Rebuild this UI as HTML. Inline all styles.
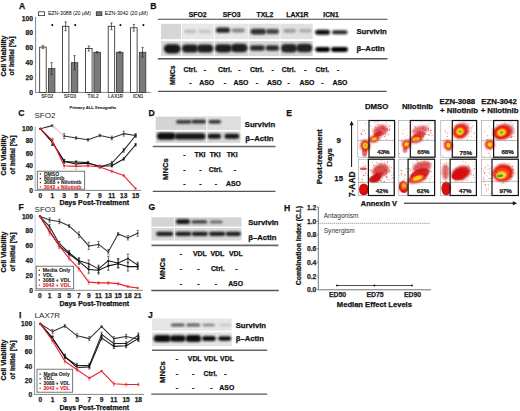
<!DOCTYPE html>
<html><head><meta charset="utf-8"><style>
html,body{margin:0;padding:0;background:#fff;}
svg{display:block;font-family:"Liberation Sans",sans-serif;}
</style></head><body>
<svg width="520" height="411" viewBox="0 0 520 411">
<defs>
<filter id="b0" x="-50%" y="-50%" width="200%" height="200%"><feGaussianBlur stdDeviation="0.4"/></filter>
<filter id="b1" x="-50%" y="-50%" width="200%" height="200%"><feGaussianBlur stdDeviation="0.7"/></filter>
<filter id="bb" x="-50%" y="-50%" width="200%" height="200%"><feGaussianBlur stdDeviation="0.9"/></filter>
<filter id="b2" x="-50%" y="-50%" width="200%" height="200%"><feGaussianBlur stdDeviation="1.1"/></filter>
<filter id="b3" x="-50%" y="-50%" width="200%" height="200%"><feGaussianBlur stdDeviation="2"/></filter>
</defs>
<rect width="520" height="411" fill="#fff"/>
<text x="19.00" y="8.68" font-size="8.6" font-weight="bold" text-anchor="start" fill="#111" stroke="#111" stroke-width="0.25">A</text>
<text x="150.30" y="8.98" font-size="8.6" font-weight="bold" text-anchor="start" fill="#111" stroke="#111" stroke-width="0.25">B</text>
<text x="18.20" y="115.58" font-size="8.6" font-weight="bold" text-anchor="start" fill="#111" stroke="#111" stroke-width="0.25">C</text>
<text x="148.50" y="115.78" font-size="8.6" font-weight="bold" text-anchor="start" fill="#111" stroke="#111" stroke-width="0.25">D</text>
<text x="286.30" y="116.18" font-size="8.6" font-weight="bold" text-anchor="start" fill="#111" stroke="#111" stroke-width="0.25">E</text>
<text x="18.50" y="210.08" font-size="8.6" font-weight="bold" text-anchor="start" fill="#111" stroke="#111" stroke-width="0.25">F</text>
<text x="148.50" y="210.48" font-size="8.6" font-weight="bold" text-anchor="start" fill="#111" stroke="#111" stroke-width="0.25">G</text>
<text x="284.00" y="211.48" font-size="8.6" font-weight="bold" text-anchor="start" fill="#111" stroke="#111" stroke-width="0.25">H</text>
<text x="19.00" y="317.68" font-size="8.6" font-weight="bold" text-anchor="start" fill="#111" stroke="#111" stroke-width="0.25">I</text>
<text x="147.90" y="317.68" font-size="8.6" font-weight="bold" text-anchor="start" fill="#111" stroke="#111" stroke-width="0.25">J</text>
<line x1="35.60" y1="16.80" x2="35.60" y2="92.70" stroke="#777" stroke-width="0.9"/>
<line x1="35.20" y1="92.40" x2="150.70" y2="92.40" stroke="#777" stroke-width="0.9"/>
<text x="33.00" y="94.80" font-size="6.7" font-weight="bold" text-anchor="end" fill="#222" stroke="#222" stroke-width="0.25">0</text>
<text x="33.00" y="79.94" font-size="6.7" font-weight="bold" text-anchor="end" fill="#222" stroke="#222" stroke-width="0.25">20</text>
<text x="33.00" y="65.08" font-size="6.7" font-weight="bold" text-anchor="end" fill="#222" stroke="#222" stroke-width="0.25">40</text>
<text x="33.00" y="50.22" font-size="6.7" font-weight="bold" text-anchor="end" fill="#222" stroke="#222" stroke-width="0.25">60</text>
<text x="33.00" y="35.36" font-size="6.7" font-weight="bold" text-anchor="end" fill="#222" stroke="#222" stroke-width="0.25">80</text>
<text x="33.00" y="20.50" font-size="6.7" font-weight="bold" text-anchor="end" fill="#222" stroke="#222" stroke-width="0.25">100</text>
<rect x="39.70" y="47.08" width="6.50" height="45.32" fill="#fff" stroke="#222" stroke-width="0.8"/>
<rect x="48.40" y="68.62" width="6.50" height="23.78" fill="#7a7a7a" stroke="#333" stroke-width="0.8"/>
<line x1="42.95" y1="45.59" x2="42.95" y2="48.56" stroke="#222" stroke-width="0.7"/>
<line x1="41.75" y1="45.59" x2="44.15" y2="45.59" stroke="#222" stroke-width="0.6"/>
<line x1="41.75" y1="48.56" x2="44.15" y2="48.56" stroke="#222" stroke-width="0.6"/>
<line x1="51.65" y1="62.68" x2="51.65" y2="74.57" stroke="#222" stroke-width="0.7"/>
<line x1="50.45" y1="62.68" x2="52.85" y2="62.68" stroke="#222" stroke-width="0.6"/>
<line x1="50.45" y1="74.57" x2="52.85" y2="74.57" stroke="#222" stroke-width="0.6"/>
<text x="47.30" y="97.95" font-size="4.6" font-weight="bold" text-anchor="middle" fill="#333">SFO2</text>
<rect x="62.40" y="26.27" width="6.50" height="66.13" fill="#fff" stroke="#222" stroke-width="0.8"/>
<rect x="71.30" y="62.68" width="6.50" height="29.72" fill="#7a7a7a" stroke="#333" stroke-width="0.8"/>
<line x1="65.65" y1="21.82" x2="65.65" y2="30.73" stroke="#222" stroke-width="0.7"/>
<line x1="64.45" y1="21.82" x2="66.85" y2="21.82" stroke="#222" stroke-width="0.6"/>
<line x1="64.45" y1="30.73" x2="66.85" y2="30.73" stroke="#222" stroke-width="0.6"/>
<line x1="74.55" y1="55.62" x2="74.55" y2="69.74" stroke="#222" stroke-width="0.7"/>
<line x1="73.35" y1="55.62" x2="75.75" y2="55.62" stroke="#222" stroke-width="0.6"/>
<line x1="73.35" y1="69.74" x2="75.75" y2="69.74" stroke="#222" stroke-width="0.6"/>
<text x="70.10" y="97.95" font-size="4.6" font-weight="bold" text-anchor="middle" fill="#333">SFO3</text>
<rect x="85.60" y="48.56" width="6.50" height="43.84" fill="#fff" stroke="#222" stroke-width="0.8"/>
<rect x="93.90" y="52.28" width="6.50" height="40.12" fill="#7a7a7a" stroke="#333" stroke-width="0.8"/>
<line x1="88.85" y1="46.04" x2="88.85" y2="51.09" stroke="#222" stroke-width="0.7"/>
<line x1="87.65" y1="46.04" x2="90.05" y2="46.04" stroke="#222" stroke-width="0.6"/>
<line x1="87.65" y1="51.09" x2="90.05" y2="51.09" stroke="#222" stroke-width="0.6"/>
<line x1="97.15" y1="51.54" x2="97.15" y2="53.02" stroke="#222" stroke-width="0.7"/>
<line x1="95.95" y1="51.54" x2="98.35" y2="51.54" stroke="#222" stroke-width="0.6"/>
<line x1="95.95" y1="53.02" x2="98.35" y2="53.02" stroke="#222" stroke-width="0.6"/>
<text x="93.00" y="97.95" font-size="4.6" font-weight="bold" text-anchor="middle" fill="#333">TXL2</text>
<rect x="108.20" y="26.27" width="6.50" height="66.13" fill="#fff" stroke="#222" stroke-width="0.8"/>
<rect x="116.50" y="52.28" width="6.50" height="40.12" fill="#7a7a7a" stroke="#333" stroke-width="0.8"/>
<line x1="111.45" y1="22.93" x2="111.45" y2="29.62" stroke="#222" stroke-width="0.7"/>
<line x1="110.25" y1="22.93" x2="112.65" y2="22.93" stroke="#222" stroke-width="0.6"/>
<line x1="110.25" y1="29.62" x2="112.65" y2="29.62" stroke="#222" stroke-width="0.6"/>
<line x1="119.75" y1="51.54" x2="119.75" y2="53.02" stroke="#222" stroke-width="0.7"/>
<line x1="118.55" y1="51.54" x2="120.95" y2="51.54" stroke="#222" stroke-width="0.6"/>
<line x1="118.55" y1="53.02" x2="120.95" y2="53.02" stroke="#222" stroke-width="0.6"/>
<text x="115.60" y="97.95" font-size="4.6" font-weight="bold" text-anchor="middle" fill="#333">LAX1R</text>
<rect x="130.60" y="27.76" width="6.50" height="64.64" fill="#fff" stroke="#222" stroke-width="0.8"/>
<rect x="139.30" y="52.28" width="6.50" height="40.12" fill="#7a7a7a" stroke="#333" stroke-width="0.8"/>
<line x1="133.85" y1="24.42" x2="133.85" y2="31.10" stroke="#222" stroke-width="0.7"/>
<line x1="132.65" y1="24.42" x2="135.05" y2="24.42" stroke="#222" stroke-width="0.6"/>
<line x1="132.65" y1="31.10" x2="135.05" y2="31.10" stroke="#222" stroke-width="0.6"/>
<line x1="142.55" y1="47.45" x2="142.55" y2="57.11" stroke="#222" stroke-width="0.7"/>
<line x1="141.35" y1="47.45" x2="143.75" y2="47.45" stroke="#222" stroke-width="0.6"/>
<line x1="141.35" y1="57.11" x2="143.75" y2="57.11" stroke="#222" stroke-width="0.6"/>
<text x="138.20" y="97.95" font-size="4.6" font-weight="bold" text-anchor="middle" fill="#333">ICN1</text>
<circle cx="52.3" cy="25.1" r="1.05" fill="#111"/>
<circle cx="75.2" cy="25.1" r="1.05" fill="#111"/>
<circle cx="120.4" cy="25.1" r="1.05" fill="#111"/>
<circle cx="143.4" cy="25.1" r="1.05" fill="#111"/>
<rect x="38.50" y="11.80" width="6.10" height="3.80" fill="#fff" stroke="#333" stroke-width="0.8"/>
<text x="47.90" y="15.26" font-size="5.2" font-weight="normal" text-anchor="start" fill="#000">EZN-3088 (20 µM)</text>
<rect x="96.30" y="11.80" width="5.60" height="3.80" fill="#777" stroke="#333" stroke-width="0.8"/>
<text x="104.80" y="15.26" font-size="5.2" font-weight="normal" text-anchor="start" fill="#000">EZN-3042 (20 µM)</text>
<text x="92.80" y="109.37" font-size="4.1" font-weight="bold" text-anchor="middle" fill="#222" stroke="#222" stroke-width="0.1">Primary ALL Xenografts</text>
<text x="3.10" y="58.47" font-size="6.9" font-weight="bold" text-anchor="middle" fill="#111" stroke="#111" stroke-width="0.25" transform="rotate(-90 3.10 56.00)">Cell Viability</text>
<text x="11.80" y="58.47" font-size="6.9" font-weight="bold" text-anchor="middle" fill="#111" stroke="#111" stroke-width="0.25" transform="rotate(-90 11.80 56.00)">of Initial [%]</text>
<line x1="35.20" y1="126.50" x2="35.20" y2="190.70" stroke="#bbb" stroke-width="1.2"/>
<line x1="34.80" y1="190.40" x2="141.00" y2="190.40" stroke="#888" stroke-width="1.0"/>
<text x="33.00" y="192.76" font-size="6.6" font-weight="bold" text-anchor="end" fill="#222" stroke="#222" stroke-width="0.25">0</text>
<text x="33.00" y="180.42" font-size="6.6" font-weight="bold" text-anchor="end" fill="#222" stroke="#222" stroke-width="0.25">20</text>
<text x="33.00" y="168.08" font-size="6.6" font-weight="bold" text-anchor="end" fill="#222" stroke="#222" stroke-width="0.25">40</text>
<text x="33.00" y="155.74" font-size="6.6" font-weight="bold" text-anchor="end" fill="#222" stroke="#222" stroke-width="0.25">60</text>
<text x="33.00" y="143.40" font-size="6.6" font-weight="bold" text-anchor="end" fill="#222" stroke="#222" stroke-width="0.25">80</text>
<text x="33.00" y="131.06" font-size="6.6" font-weight="bold" text-anchor="end" fill="#222" stroke="#222" stroke-width="0.25">100</text>
<text x="40.40" y="197.96" font-size="6.6" font-weight="bold" text-anchor="middle" fill="#222" stroke="#222" stroke-width="0.25">0</text>
<text x="52.30" y="197.96" font-size="6.6" font-weight="bold" text-anchor="middle" fill="#222" stroke="#222" stroke-width="0.25">1</text>
<text x="64.20" y="197.96" font-size="6.6" font-weight="bold" text-anchor="middle" fill="#222" stroke="#222" stroke-width="0.25">3</text>
<text x="76.10" y="197.96" font-size="6.6" font-weight="bold" text-anchor="middle" fill="#222" stroke="#222" stroke-width="0.25">5</text>
<text x="88.00" y="197.96" font-size="6.6" font-weight="bold" text-anchor="middle" fill="#222" stroke="#222" stroke-width="0.25">7</text>
<text x="99.90" y="197.96" font-size="6.6" font-weight="bold" text-anchor="middle" fill="#222" stroke="#222" stroke-width="0.25">9</text>
<text x="111.80" y="197.96" font-size="6.6" font-weight="bold" text-anchor="middle" fill="#222" stroke="#222" stroke-width="0.25">11</text>
<text x="123.70" y="197.96" font-size="6.6" font-weight="bold" text-anchor="middle" fill="#222" stroke="#222" stroke-width="0.25">13</text>
<text x="135.60" y="197.96" font-size="6.6" font-weight="bold" text-anchor="middle" fill="#222" stroke="#222" stroke-width="0.25">15</text>
<text x="94.20" y="205.41" font-size="7.0" font-weight="bold" text-anchor="middle" fill="#111" stroke="#111" stroke-width="0.25">Days Post-Treatment</text>
<text x="3.80" y="157.47" font-size="6.9" font-weight="bold" text-anchor="middle" fill="#111" stroke="#111" stroke-width="0.25" transform="rotate(-90 3.80 155.00)">Cell Viability</text>
<text x="12.30" y="157.47" font-size="6.9" font-weight="bold" text-anchor="middle" fill="#111" stroke="#111" stroke-width="0.25" transform="rotate(-90 12.30 155.00)">of Initial [%]</text>
<text x="34.50" y="118.06" font-size="8.0" font-weight="normal" text-anchor="start" fill="#222">SFO2</text>
<polyline points="40.40,128.70 52.30,125.62 64.20,136.10 76.10,137.96 88.00,139.81 99.90,135.49 111.80,137.96 123.70,133.64 135.60,135.49" fill="none" stroke="#333" stroke-width="1.05" stroke-linejoin="round"/>
<circle cx="40.40" cy="128.70" r="1.0" fill="#333"/>
<line x1="52.30" y1="125.00" x2="52.30" y2="126.23" stroke="#333" stroke-width="0.65"/>
<line x1="51.10" y1="125.00" x2="53.50" y2="125.00" stroke="#333" stroke-width="0.6"/>
<line x1="51.10" y1="126.23" x2="53.50" y2="126.23" stroke="#333" stroke-width="0.6"/>
<circle cx="52.30" cy="125.62" r="1.0" fill="#333"/>
<line x1="64.20" y1="133.64" x2="64.20" y2="138.57" stroke="#333" stroke-width="0.65"/>
<line x1="63.00" y1="133.64" x2="65.40" y2="133.64" stroke="#333" stroke-width="0.6"/>
<line x1="63.00" y1="138.57" x2="65.40" y2="138.57" stroke="#333" stroke-width="0.6"/>
<circle cx="64.20" cy="136.10" r="1.0" fill="#333"/>
<line x1="76.10" y1="136.72" x2="76.10" y2="139.19" stroke="#333" stroke-width="0.65"/>
<line x1="74.90" y1="136.72" x2="77.30" y2="136.72" stroke="#333" stroke-width="0.6"/>
<line x1="74.90" y1="139.19" x2="77.30" y2="139.19" stroke="#333" stroke-width="0.6"/>
<circle cx="76.10" cy="137.96" r="1.0" fill="#333"/>
<line x1="88.00" y1="138.57" x2="88.00" y2="141.04" stroke="#333" stroke-width="0.65"/>
<line x1="86.80" y1="138.57" x2="89.20" y2="138.57" stroke="#333" stroke-width="0.6"/>
<line x1="86.80" y1="141.04" x2="89.20" y2="141.04" stroke="#333" stroke-width="0.6"/>
<circle cx="88.00" cy="139.81" r="1.0" fill="#333"/>
<line x1="99.90" y1="134.25" x2="99.90" y2="136.72" stroke="#333" stroke-width="0.65"/>
<line x1="98.70" y1="134.25" x2="101.10" y2="134.25" stroke="#333" stroke-width="0.6"/>
<line x1="98.70" y1="136.72" x2="101.10" y2="136.72" stroke="#333" stroke-width="0.6"/>
<circle cx="99.90" cy="135.49" r="1.0" fill="#333"/>
<line x1="111.80" y1="136.10" x2="111.80" y2="139.81" stroke="#333" stroke-width="0.65"/>
<line x1="110.60" y1="136.10" x2="113.00" y2="136.10" stroke="#333" stroke-width="0.6"/>
<line x1="110.60" y1="139.81" x2="113.00" y2="139.81" stroke="#333" stroke-width="0.6"/>
<circle cx="111.80" cy="137.96" r="1.0" fill="#333"/>
<line x1="123.70" y1="131.17" x2="123.70" y2="136.10" stroke="#333" stroke-width="0.65"/>
<line x1="122.50" y1="131.17" x2="124.90" y2="131.17" stroke="#333" stroke-width="0.6"/>
<line x1="122.50" y1="136.10" x2="124.90" y2="136.10" stroke="#333" stroke-width="0.6"/>
<circle cx="123.70" cy="133.64" r="1.0" fill="#333"/>
<line x1="135.60" y1="133.64" x2="135.60" y2="137.34" stroke="#333" stroke-width="0.65"/>
<line x1="134.40" y1="133.64" x2="136.80" y2="133.64" stroke="#333" stroke-width="0.6"/>
<line x1="134.40" y1="137.34" x2="136.80" y2="137.34" stroke="#333" stroke-width="0.6"/>
<circle cx="135.60" cy="135.49" r="1.0" fill="#333"/>
<polyline points="40.40,128.70 52.30,142.27 64.20,161.40 76.10,162.02 88.00,162.63 99.90,166.95 111.80,163.25 123.70,150.30 135.60,135.49" fill="none" stroke="#222" stroke-width="1.05" stroke-linejoin="round"/>
<circle cx="40.40" cy="128.70" r="1.0" fill="#222"/>
<line x1="52.30" y1="139.19" x2="52.30" y2="145.36" stroke="#222" stroke-width="0.65"/>
<line x1="51.10" y1="139.19" x2="53.50" y2="139.19" stroke="#222" stroke-width="0.6"/>
<line x1="51.10" y1="145.36" x2="53.50" y2="145.36" stroke="#222" stroke-width="0.6"/>
<circle cx="52.30" cy="142.27" r="1.0" fill="#222"/>
<line x1="64.20" y1="159.55" x2="64.20" y2="163.25" stroke="#222" stroke-width="0.65"/>
<line x1="63.00" y1="159.55" x2="65.40" y2="159.55" stroke="#222" stroke-width="0.6"/>
<line x1="63.00" y1="163.25" x2="65.40" y2="163.25" stroke="#222" stroke-width="0.6"/>
<circle cx="64.20" cy="161.40" r="1.0" fill="#222"/>
<line x1="76.10" y1="160.78" x2="76.10" y2="163.25" stroke="#222" stroke-width="0.65"/>
<line x1="74.90" y1="160.78" x2="77.30" y2="160.78" stroke="#222" stroke-width="0.6"/>
<line x1="74.90" y1="163.25" x2="77.30" y2="163.25" stroke="#222" stroke-width="0.6"/>
<circle cx="76.10" cy="162.02" r="1.0" fill="#222"/>
<line x1="88.00" y1="161.40" x2="88.00" y2="163.87" stroke="#222" stroke-width="0.65"/>
<line x1="86.80" y1="161.40" x2="89.20" y2="161.40" stroke="#222" stroke-width="0.6"/>
<line x1="86.80" y1="163.87" x2="89.20" y2="163.87" stroke="#222" stroke-width="0.6"/>
<circle cx="88.00" cy="162.63" r="1.0" fill="#222"/>
<line x1="99.90" y1="165.72" x2="99.90" y2="168.19" stroke="#222" stroke-width="0.65"/>
<line x1="98.70" y1="165.72" x2="101.10" y2="165.72" stroke="#222" stroke-width="0.6"/>
<line x1="98.70" y1="168.19" x2="101.10" y2="168.19" stroke="#222" stroke-width="0.6"/>
<circle cx="99.90" cy="166.95" r="1.0" fill="#222"/>
<line x1="111.80" y1="161.40" x2="111.80" y2="165.10" stroke="#222" stroke-width="0.65"/>
<line x1="110.60" y1="161.40" x2="113.00" y2="161.40" stroke="#222" stroke-width="0.6"/>
<line x1="110.60" y1="165.10" x2="113.00" y2="165.10" stroke="#222" stroke-width="0.6"/>
<circle cx="111.80" cy="163.25" r="1.0" fill="#222"/>
<line x1="123.70" y1="148.44" x2="123.70" y2="152.15" stroke="#222" stroke-width="0.65"/>
<line x1="122.50" y1="148.44" x2="124.90" y2="148.44" stroke="#222" stroke-width="0.6"/>
<line x1="122.50" y1="152.15" x2="124.90" y2="152.15" stroke="#222" stroke-width="0.6"/>
<circle cx="123.70" cy="150.30" r="1.0" fill="#222"/>
<line x1="135.60" y1="134.25" x2="135.60" y2="136.72" stroke="#222" stroke-width="0.65"/>
<line x1="134.40" y1="134.25" x2="136.80" y2="134.25" stroke="#222" stroke-width="0.6"/>
<line x1="134.40" y1="136.72" x2="136.80" y2="136.72" stroke="#222" stroke-width="0.6"/>
<circle cx="135.60" cy="135.49" r="1.0" fill="#222"/>
<polyline points="40.40,128.70 52.30,142.27 64.20,161.40 76.10,163.87 88.00,163.25 99.90,166.34 111.80,165.72 123.70,158.93 135.60,144.74" fill="none" stroke="#111" stroke-width="1.05" stroke-linejoin="round"/>
<circle cx="40.40" cy="128.70" r="1.0" fill="#111"/>
<line x1="52.30" y1="139.19" x2="52.30" y2="145.36" stroke="#111" stroke-width="0.65"/>
<line x1="51.10" y1="139.19" x2="53.50" y2="139.19" stroke="#111" stroke-width="0.6"/>
<line x1="51.10" y1="145.36" x2="53.50" y2="145.36" stroke="#111" stroke-width="0.6"/>
<circle cx="52.30" cy="142.27" r="1.0" fill="#111"/>
<line x1="64.20" y1="159.55" x2="64.20" y2="163.25" stroke="#111" stroke-width="0.65"/>
<line x1="63.00" y1="159.55" x2="65.40" y2="159.55" stroke="#111" stroke-width="0.6"/>
<line x1="63.00" y1="163.25" x2="65.40" y2="163.25" stroke="#111" stroke-width="0.6"/>
<circle cx="64.20" cy="161.40" r="1.0" fill="#111"/>
<line x1="76.10" y1="162.63" x2="76.10" y2="165.10" stroke="#111" stroke-width="0.65"/>
<line x1="74.90" y1="162.63" x2="77.30" y2="162.63" stroke="#111" stroke-width="0.6"/>
<line x1="74.90" y1="165.10" x2="77.30" y2="165.10" stroke="#111" stroke-width="0.6"/>
<circle cx="76.10" cy="163.87" r="1.0" fill="#111"/>
<line x1="88.00" y1="162.02" x2="88.00" y2="164.49" stroke="#111" stroke-width="0.65"/>
<line x1="86.80" y1="162.02" x2="89.20" y2="162.02" stroke="#111" stroke-width="0.6"/>
<line x1="86.80" y1="164.49" x2="89.20" y2="164.49" stroke="#111" stroke-width="0.6"/>
<circle cx="88.00" cy="163.25" r="1.0" fill="#111"/>
<line x1="99.90" y1="165.10" x2="99.90" y2="167.57" stroke="#111" stroke-width="0.65"/>
<line x1="98.70" y1="165.10" x2="101.10" y2="165.10" stroke="#111" stroke-width="0.6"/>
<line x1="98.70" y1="167.57" x2="101.10" y2="167.57" stroke="#111" stroke-width="0.6"/>
<circle cx="99.90" cy="166.34" r="1.0" fill="#111"/>
<line x1="111.80" y1="164.49" x2="111.80" y2="166.95" stroke="#111" stroke-width="0.65"/>
<line x1="110.60" y1="164.49" x2="113.00" y2="164.49" stroke="#111" stroke-width="0.6"/>
<line x1="110.60" y1="166.95" x2="113.00" y2="166.95" stroke="#111" stroke-width="0.6"/>
<circle cx="111.80" cy="165.72" r="1.0" fill="#111"/>
<line x1="123.70" y1="157.70" x2="123.70" y2="160.17" stroke="#111" stroke-width="0.65"/>
<line x1="122.50" y1="157.70" x2="124.90" y2="157.70" stroke="#111" stroke-width="0.6"/>
<line x1="122.50" y1="160.17" x2="124.90" y2="160.17" stroke="#111" stroke-width="0.6"/>
<circle cx="123.70" cy="158.93" r="1.0" fill="#111"/>
<line x1="135.60" y1="143.51" x2="135.60" y2="145.98" stroke="#111" stroke-width="0.65"/>
<line x1="134.40" y1="143.51" x2="136.80" y2="143.51" stroke="#111" stroke-width="0.6"/>
<line x1="134.40" y1="145.98" x2="136.80" y2="145.98" stroke="#111" stroke-width="0.6"/>
<circle cx="135.60" cy="144.74" r="1.0" fill="#111"/>
<polyline points="40.40,128.70 52.30,140.42 64.20,165.72 76.10,166.34 88.00,165.72 99.90,166.95 111.80,171.27 123.70,175.59 135.60,188.55" fill="none" stroke="#e8202a" stroke-width="1.1" stroke-linejoin="round"/>
<circle cx="40.40" cy="128.70" r="1.0" fill="#e8202a"/>
<line x1="52.30" y1="137.96" x2="52.30" y2="142.89" stroke="#f08080" stroke-width="0.65"/>
<line x1="51.10" y1="137.96" x2="53.50" y2="137.96" stroke="#f08080" stroke-width="0.6"/>
<line x1="51.10" y1="142.89" x2="53.50" y2="142.89" stroke="#f08080" stroke-width="0.6"/>
<circle cx="52.30" cy="140.42" r="1.0" fill="#e8202a"/>
<line x1="64.20" y1="163.25" x2="64.20" y2="168.19" stroke="#f08080" stroke-width="0.65"/>
<line x1="63.00" y1="163.25" x2="65.40" y2="163.25" stroke="#f08080" stroke-width="0.6"/>
<line x1="63.00" y1="168.19" x2="65.40" y2="168.19" stroke="#f08080" stroke-width="0.6"/>
<circle cx="64.20" cy="165.72" r="1.0" fill="#e8202a"/>
<line x1="76.10" y1="163.25" x2="76.10" y2="169.42" stroke="#f08080" stroke-width="0.65"/>
<line x1="74.90" y1="163.25" x2="77.30" y2="163.25" stroke="#f08080" stroke-width="0.6"/>
<line x1="74.90" y1="169.42" x2="77.30" y2="169.42" stroke="#f08080" stroke-width="0.6"/>
<circle cx="76.10" cy="166.34" r="1.0" fill="#e8202a"/>
<line x1="88.00" y1="164.49" x2="88.00" y2="166.95" stroke="#f08080" stroke-width="0.65"/>
<line x1="86.80" y1="164.49" x2="89.20" y2="164.49" stroke="#f08080" stroke-width="0.6"/>
<line x1="86.80" y1="166.95" x2="89.20" y2="166.95" stroke="#f08080" stroke-width="0.6"/>
<circle cx="88.00" cy="165.72" r="1.0" fill="#e8202a"/>
<line x1="99.90" y1="165.72" x2="99.90" y2="168.19" stroke="#f08080" stroke-width="0.65"/>
<line x1="98.70" y1="165.72" x2="101.10" y2="165.72" stroke="#f08080" stroke-width="0.6"/>
<line x1="98.70" y1="168.19" x2="101.10" y2="168.19" stroke="#f08080" stroke-width="0.6"/>
<circle cx="99.90" cy="166.95" r="1.0" fill="#e8202a"/>
<line x1="111.80" y1="170.04" x2="111.80" y2="172.51" stroke="#f08080" stroke-width="0.65"/>
<line x1="110.60" y1="170.04" x2="113.00" y2="170.04" stroke="#f08080" stroke-width="0.6"/>
<line x1="110.60" y1="172.51" x2="113.00" y2="172.51" stroke="#f08080" stroke-width="0.6"/>
<circle cx="111.80" cy="171.27" r="1.0" fill="#e8202a"/>
<line x1="123.70" y1="174.36" x2="123.70" y2="176.83" stroke="#f08080" stroke-width="0.65"/>
<line x1="122.50" y1="174.36" x2="124.90" y2="174.36" stroke="#f08080" stroke-width="0.6"/>
<line x1="122.50" y1="176.83" x2="124.90" y2="176.83" stroke="#f08080" stroke-width="0.6"/>
<circle cx="123.70" cy="175.59" r="1.0" fill="#e8202a"/>
<line x1="135.60" y1="187.93" x2="135.60" y2="189.17" stroke="#f08080" stroke-width="0.65"/>
<line x1="134.40" y1="187.93" x2="136.80" y2="187.93" stroke="#f08080" stroke-width="0.6"/>
<line x1="134.40" y1="189.17" x2="136.80" y2="189.17" stroke="#f08080" stroke-width="0.6"/>
<circle cx="135.60" cy="188.55" r="1.0" fill="#e8202a"/>
<rect x="37.30" y="171.20" width="47.40" height="18.00" fill="#fff" stroke="#555" stroke-width="0.8"/>
<circle cx="40.40" cy="174.10" r="0.75" fill="#222"/>
<text x="43.90" y="175.93" font-size="5.1" font-weight="bold" text-anchor="start" fill="#222" stroke="#222" stroke-width="0.1">DMSO</text>
<circle cx="40.40" cy="178.40" r="0.75" fill="#222"/>
<text x="43.90" y="180.23" font-size="5.1" font-weight="bold" text-anchor="start" fill="#222" stroke="#222" stroke-width="0.1">Nilotinib</text>
<circle cx="40.40" cy="182.40" r="0.75" fill="#222"/>
<text x="43.90" y="184.23" font-size="5.1" font-weight="bold" text-anchor="start" fill="#222" stroke="#222" stroke-width="0.1">3088 + Nilotinib</text>
<circle cx="40.40" cy="186.70" r="0.75" fill="#e8202a"/>
<text x="43.90" y="188.53" font-size="5.1" font-weight="bold" text-anchor="start" fill="#e8202a" stroke="#e8202a" stroke-width="0.1">3042 + Nilotinib</text>
<line x1="53.30" y1="125.82" x2="63.20" y2="135.90" stroke="#fff" stroke-width="1.6"/>
<line x1="53.10" y1="125.62" x2="63.40" y2="136.10" stroke="#f4a0a8" stroke-width="0.9"/>
<line x1="35.20" y1="214.50" x2="35.20" y2="290.60" stroke="#d4d4d4" stroke-width="1.2"/>
<line x1="34.80" y1="290.30" x2="143.00" y2="290.30" stroke="#888" stroke-width="1.0"/>
<text x="32.90" y="292.66" font-size="6.6" font-weight="bold" text-anchor="end" fill="#222" stroke="#222" stroke-width="0.25">0</text>
<text x="32.90" y="277.86" font-size="6.6" font-weight="bold" text-anchor="end" fill="#222" stroke="#222" stroke-width="0.25">20</text>
<text x="32.90" y="263.06" font-size="6.6" font-weight="bold" text-anchor="end" fill="#222" stroke="#222" stroke-width="0.25">40</text>
<text x="32.90" y="248.26" font-size="6.6" font-weight="bold" text-anchor="end" fill="#222" stroke="#222" stroke-width="0.25">60</text>
<text x="32.90" y="233.46" font-size="6.6" font-weight="bold" text-anchor="end" fill="#222" stroke="#222" stroke-width="0.25">80</text>
<text x="32.90" y="218.66" font-size="6.6" font-weight="bold" text-anchor="end" fill="#222" stroke="#222" stroke-width="0.25">100</text>
<text x="39.80" y="297.56" font-size="6.6" font-weight="bold" text-anchor="middle" fill="#222" stroke="#222" stroke-width="0.25">0</text>
<text x="49.59" y="297.56" font-size="6.6" font-weight="bold" text-anchor="middle" fill="#222" stroke="#222" stroke-width="0.25">1</text>
<text x="59.38" y="297.56" font-size="6.6" font-weight="bold" text-anchor="middle" fill="#222" stroke="#222" stroke-width="0.25">3</text>
<text x="69.17" y="297.56" font-size="6.6" font-weight="bold" text-anchor="middle" fill="#222" stroke="#222" stroke-width="0.25">5</text>
<text x="78.96" y="297.56" font-size="6.6" font-weight="bold" text-anchor="middle" fill="#222" stroke="#222" stroke-width="0.25">7</text>
<text x="88.75" y="297.56" font-size="6.6" font-weight="bold" text-anchor="middle" fill="#222" stroke="#222" stroke-width="0.25">9</text>
<text x="98.54" y="297.56" font-size="6.6" font-weight="bold" text-anchor="middle" fill="#222" stroke="#222" stroke-width="0.25">11</text>
<text x="108.33" y="297.56" font-size="6.6" font-weight="bold" text-anchor="middle" fill="#222" stroke="#222" stroke-width="0.25">13</text>
<text x="118.12" y="297.56" font-size="6.6" font-weight="bold" text-anchor="middle" fill="#222" stroke="#222" stroke-width="0.25">15</text>
<text x="127.91" y="297.56" font-size="6.6" font-weight="bold" text-anchor="middle" fill="#222" stroke="#222" stroke-width="0.25">18</text>
<text x="137.70" y="297.56" font-size="6.6" font-weight="bold" text-anchor="middle" fill="#222" stroke="#222" stroke-width="0.25">21</text>
<text x="94.30" y="305.51" font-size="7.0" font-weight="bold" text-anchor="middle" fill="#111" stroke="#111" stroke-width="0.25">Days Post-Treatment</text>
<text x="3.80" y="254.47" font-size="6.9" font-weight="bold" text-anchor="middle" fill="#111" stroke="#111" stroke-width="0.25" transform="rotate(-90 3.80 252.00)">Cell Viability</text>
<text x="12.30" y="254.47" font-size="6.9" font-weight="bold" text-anchor="middle" fill="#111" stroke="#111" stroke-width="0.25" transform="rotate(-90 12.30 252.00)">of Initial [%]</text>
<text x="34.60" y="212.36" font-size="8.0" font-weight="normal" text-anchor="start" fill="#222">SFO3</text>
<polyline points="39.80,216.30 49.59,220.00 59.38,221.48 69.17,225.92 78.96,234.80 88.75,245.90 98.54,244.42 108.33,251.82 118.12,234.06 127.91,237.76 137.70,233.32" fill="none" stroke="#333" stroke-width="1.05" stroke-linejoin="round"/>
<circle cx="39.80" cy="216.30" r="1.0" fill="#333"/>
<line x1="49.59" y1="217.78" x2="49.59" y2="222.22" stroke="#333" stroke-width="0.65"/>
<line x1="48.39" y1="217.78" x2="50.79" y2="217.78" stroke="#333" stroke-width="0.6"/>
<line x1="48.39" y1="222.22" x2="50.79" y2="222.22" stroke="#333" stroke-width="0.6"/>
<circle cx="49.59" cy="220.00" r="1.0" fill="#333"/>
<line x1="59.38" y1="219.26" x2="59.38" y2="223.70" stroke="#333" stroke-width="0.65"/>
<line x1="58.18" y1="219.26" x2="60.58" y2="219.26" stroke="#333" stroke-width="0.6"/>
<line x1="58.18" y1="223.70" x2="60.58" y2="223.70" stroke="#333" stroke-width="0.6"/>
<circle cx="59.38" cy="221.48" r="1.0" fill="#333"/>
<line x1="69.17" y1="224.44" x2="69.17" y2="227.40" stroke="#333" stroke-width="0.65"/>
<line x1="67.97" y1="224.44" x2="70.37" y2="224.44" stroke="#333" stroke-width="0.6"/>
<line x1="67.97" y1="227.40" x2="70.37" y2="227.40" stroke="#333" stroke-width="0.6"/>
<circle cx="69.17" cy="225.92" r="1.0" fill="#333"/>
<line x1="78.96" y1="231.84" x2="78.96" y2="237.76" stroke="#333" stroke-width="0.65"/>
<line x1="77.76" y1="231.84" x2="80.16" y2="231.84" stroke="#333" stroke-width="0.6"/>
<line x1="77.76" y1="237.76" x2="80.16" y2="237.76" stroke="#333" stroke-width="0.6"/>
<circle cx="78.96" cy="234.80" r="1.0" fill="#333"/>
<line x1="88.75" y1="242.20" x2="88.75" y2="249.60" stroke="#333" stroke-width="0.65"/>
<line x1="87.55" y1="242.20" x2="89.95" y2="242.20" stroke="#333" stroke-width="0.6"/>
<line x1="87.55" y1="249.60" x2="89.95" y2="249.60" stroke="#333" stroke-width="0.6"/>
<circle cx="88.75" cy="245.90" r="1.0" fill="#333"/>
<line x1="98.54" y1="241.46" x2="98.54" y2="247.38" stroke="#333" stroke-width="0.65"/>
<line x1="97.34" y1="241.46" x2="99.74" y2="241.46" stroke="#333" stroke-width="0.6"/>
<line x1="97.34" y1="247.38" x2="99.74" y2="247.38" stroke="#333" stroke-width="0.6"/>
<circle cx="98.54" cy="244.42" r="1.0" fill="#333"/>
<line x1="108.33" y1="249.60" x2="108.33" y2="254.04" stroke="#333" stroke-width="0.65"/>
<line x1="107.13" y1="249.60" x2="109.53" y2="249.60" stroke="#333" stroke-width="0.6"/>
<line x1="107.13" y1="254.04" x2="109.53" y2="254.04" stroke="#333" stroke-width="0.6"/>
<circle cx="108.33" cy="251.82" r="1.0" fill="#333"/>
<line x1="118.12" y1="232.58" x2="118.12" y2="235.54" stroke="#333" stroke-width="0.65"/>
<line x1="116.92" y1="232.58" x2="119.32" y2="232.58" stroke="#333" stroke-width="0.6"/>
<line x1="116.92" y1="235.54" x2="119.32" y2="235.54" stroke="#333" stroke-width="0.6"/>
<circle cx="118.12" cy="234.06" r="1.0" fill="#333"/>
<line x1="127.91" y1="235.54" x2="127.91" y2="239.98" stroke="#333" stroke-width="0.65"/>
<line x1="126.71" y1="235.54" x2="129.11" y2="235.54" stroke="#333" stroke-width="0.6"/>
<line x1="126.71" y1="239.98" x2="129.11" y2="239.98" stroke="#333" stroke-width="0.6"/>
<circle cx="127.91" cy="237.76" r="1.0" fill="#333"/>
<line x1="137.70" y1="230.36" x2="137.70" y2="236.28" stroke="#333" stroke-width="0.65"/>
<line x1="136.50" y1="230.36" x2="138.90" y2="230.36" stroke="#333" stroke-width="0.6"/>
<line x1="136.50" y1="236.28" x2="138.90" y2="236.28" stroke="#333" stroke-width="0.6"/>
<circle cx="137.70" cy="233.32" r="1.0" fill="#333"/>
<polyline points="39.80,216.30 49.59,226.66 59.38,243.68 69.17,252.56 78.96,260.70 88.75,263.66 98.54,268.84 108.33,260.70 118.12,262.92 127.91,258.48 137.70,265.14" fill="none" stroke="#222" stroke-width="1.05" stroke-linejoin="round"/>
<circle cx="39.80" cy="216.30" r="1.0" fill="#222"/>
<line x1="49.59" y1="224.44" x2="49.59" y2="228.88" stroke="#222" stroke-width="0.65"/>
<line x1="48.39" y1="224.44" x2="50.79" y2="224.44" stroke="#222" stroke-width="0.6"/>
<line x1="48.39" y1="228.88" x2="50.79" y2="228.88" stroke="#222" stroke-width="0.6"/>
<circle cx="49.59" cy="226.66" r="1.0" fill="#222"/>
<line x1="59.38" y1="241.46" x2="59.38" y2="245.90" stroke="#222" stroke-width="0.65"/>
<line x1="58.18" y1="241.46" x2="60.58" y2="241.46" stroke="#222" stroke-width="0.6"/>
<line x1="58.18" y1="245.90" x2="60.58" y2="245.90" stroke="#222" stroke-width="0.6"/>
<circle cx="59.38" cy="243.68" r="1.0" fill="#222"/>
<line x1="69.17" y1="250.34" x2="69.17" y2="254.78" stroke="#222" stroke-width="0.65"/>
<line x1="67.97" y1="250.34" x2="70.37" y2="250.34" stroke="#222" stroke-width="0.6"/>
<line x1="67.97" y1="254.78" x2="70.37" y2="254.78" stroke="#222" stroke-width="0.6"/>
<circle cx="69.17" cy="252.56" r="1.0" fill="#222"/>
<line x1="78.96" y1="257.74" x2="78.96" y2="263.66" stroke="#222" stroke-width="0.65"/>
<line x1="77.76" y1="257.74" x2="80.16" y2="257.74" stroke="#222" stroke-width="0.6"/>
<line x1="77.76" y1="263.66" x2="80.16" y2="263.66" stroke="#222" stroke-width="0.6"/>
<circle cx="78.96" cy="260.70" r="1.0" fill="#222"/>
<line x1="88.75" y1="259.96" x2="88.75" y2="267.36" stroke="#222" stroke-width="0.65"/>
<line x1="87.55" y1="259.96" x2="89.95" y2="259.96" stroke="#222" stroke-width="0.6"/>
<line x1="87.55" y1="267.36" x2="89.95" y2="267.36" stroke="#222" stroke-width="0.6"/>
<circle cx="88.75" cy="263.66" r="1.0" fill="#222"/>
<line x1="98.54" y1="265.14" x2="98.54" y2="272.54" stroke="#222" stroke-width="0.65"/>
<line x1="97.34" y1="265.14" x2="99.74" y2="265.14" stroke="#222" stroke-width="0.6"/>
<line x1="97.34" y1="272.54" x2="99.74" y2="272.54" stroke="#222" stroke-width="0.6"/>
<circle cx="98.54" cy="268.84" r="1.0" fill="#222"/>
<line x1="108.33" y1="256.26" x2="108.33" y2="265.14" stroke="#222" stroke-width="0.65"/>
<line x1="107.13" y1="256.26" x2="109.53" y2="256.26" stroke="#222" stroke-width="0.6"/>
<line x1="107.13" y1="265.14" x2="109.53" y2="265.14" stroke="#222" stroke-width="0.6"/>
<circle cx="108.33" cy="260.70" r="1.0" fill="#222"/>
<line x1="118.12" y1="258.48" x2="118.12" y2="267.36" stroke="#222" stroke-width="0.65"/>
<line x1="116.92" y1="258.48" x2="119.32" y2="258.48" stroke="#222" stroke-width="0.6"/>
<line x1="116.92" y1="267.36" x2="119.32" y2="267.36" stroke="#222" stroke-width="0.6"/>
<circle cx="118.12" cy="262.92" r="1.0" fill="#222"/>
<line x1="127.91" y1="254.04" x2="127.91" y2="262.92" stroke="#222" stroke-width="0.65"/>
<line x1="126.71" y1="254.04" x2="129.11" y2="254.04" stroke="#222" stroke-width="0.6"/>
<line x1="126.71" y1="262.92" x2="129.11" y2="262.92" stroke="#222" stroke-width="0.6"/>
<circle cx="127.91" cy="258.48" r="1.0" fill="#222"/>
<line x1="137.70" y1="262.18" x2="137.70" y2="268.10" stroke="#222" stroke-width="0.65"/>
<line x1="136.50" y1="262.18" x2="138.90" y2="262.18" stroke="#222" stroke-width="0.6"/>
<line x1="136.50" y1="268.10" x2="138.90" y2="268.10" stroke="#222" stroke-width="0.6"/>
<circle cx="137.70" cy="265.14" r="1.0" fill="#222"/>
<polyline points="39.80,216.30 49.59,231.10 59.38,245.90 69.17,254.04 78.96,261.44 88.75,269.58 98.54,270.32 108.33,265.88 118.12,263.66 127.91,266.62 137.70,266.62" fill="none" stroke="#111" stroke-width="1.05" stroke-linejoin="round"/>
<circle cx="39.80" cy="216.30" r="1.0" fill="#111"/>
<line x1="49.59" y1="228.88" x2="49.59" y2="233.32" stroke="#111" stroke-width="0.65"/>
<line x1="48.39" y1="228.88" x2="50.79" y2="228.88" stroke="#111" stroke-width="0.6"/>
<line x1="48.39" y1="233.32" x2="50.79" y2="233.32" stroke="#111" stroke-width="0.6"/>
<circle cx="49.59" cy="231.10" r="1.0" fill="#111"/>
<line x1="59.38" y1="243.68" x2="59.38" y2="248.12" stroke="#111" stroke-width="0.65"/>
<line x1="58.18" y1="243.68" x2="60.58" y2="243.68" stroke="#111" stroke-width="0.6"/>
<line x1="58.18" y1="248.12" x2="60.58" y2="248.12" stroke="#111" stroke-width="0.6"/>
<circle cx="59.38" cy="245.90" r="1.0" fill="#111"/>
<line x1="69.17" y1="251.82" x2="69.17" y2="256.26" stroke="#111" stroke-width="0.65"/>
<line x1="67.97" y1="251.82" x2="70.37" y2="251.82" stroke="#111" stroke-width="0.6"/>
<line x1="67.97" y1="256.26" x2="70.37" y2="256.26" stroke="#111" stroke-width="0.6"/>
<circle cx="69.17" cy="254.04" r="1.0" fill="#111"/>
<line x1="78.96" y1="258.48" x2="78.96" y2="264.40" stroke="#111" stroke-width="0.65"/>
<line x1="77.76" y1="258.48" x2="80.16" y2="258.48" stroke="#111" stroke-width="0.6"/>
<line x1="77.76" y1="264.40" x2="80.16" y2="264.40" stroke="#111" stroke-width="0.6"/>
<circle cx="78.96" cy="261.44" r="1.0" fill="#111"/>
<line x1="88.75" y1="265.88" x2="88.75" y2="273.28" stroke="#111" stroke-width="0.65"/>
<line x1="87.55" y1="265.88" x2="89.95" y2="265.88" stroke="#111" stroke-width="0.6"/>
<line x1="87.55" y1="273.28" x2="89.95" y2="273.28" stroke="#111" stroke-width="0.6"/>
<circle cx="88.75" cy="269.58" r="1.0" fill="#111"/>
<line x1="98.54" y1="266.62" x2="98.54" y2="274.02" stroke="#111" stroke-width="0.65"/>
<line x1="97.34" y1="266.62" x2="99.74" y2="266.62" stroke="#111" stroke-width="0.6"/>
<line x1="97.34" y1="274.02" x2="99.74" y2="274.02" stroke="#111" stroke-width="0.6"/>
<circle cx="98.54" cy="270.32" r="1.0" fill="#111"/>
<line x1="108.33" y1="261.44" x2="108.33" y2="270.32" stroke="#111" stroke-width="0.65"/>
<line x1="107.13" y1="261.44" x2="109.53" y2="261.44" stroke="#111" stroke-width="0.6"/>
<line x1="107.13" y1="270.32" x2="109.53" y2="270.32" stroke="#111" stroke-width="0.6"/>
<circle cx="108.33" cy="265.88" r="1.0" fill="#111"/>
<line x1="118.12" y1="259.22" x2="118.12" y2="268.10" stroke="#111" stroke-width="0.65"/>
<line x1="116.92" y1="259.22" x2="119.32" y2="259.22" stroke="#111" stroke-width="0.6"/>
<line x1="116.92" y1="268.10" x2="119.32" y2="268.10" stroke="#111" stroke-width="0.6"/>
<circle cx="118.12" cy="263.66" r="1.0" fill="#111"/>
<line x1="127.91" y1="262.18" x2="127.91" y2="271.06" stroke="#111" stroke-width="0.65"/>
<line x1="126.71" y1="262.18" x2="129.11" y2="262.18" stroke="#111" stroke-width="0.6"/>
<line x1="126.71" y1="271.06" x2="129.11" y2="271.06" stroke="#111" stroke-width="0.6"/>
<circle cx="127.91" cy="266.62" r="1.0" fill="#111"/>
<line x1="137.70" y1="263.66" x2="137.70" y2="269.58" stroke="#111" stroke-width="0.65"/>
<line x1="136.50" y1="263.66" x2="138.90" y2="263.66" stroke="#111" stroke-width="0.6"/>
<line x1="136.50" y1="269.58" x2="138.90" y2="269.58" stroke="#111" stroke-width="0.6"/>
<circle cx="137.70" cy="266.62" r="1.0" fill="#111"/>
<polyline points="39.80,216.30 49.59,231.84 59.38,245.90 69.17,258.48 78.96,268.84 88.75,282.16 98.54,282.90 108.33,282.90 118.12,283.64 127.91,286.60 137.70,288.08" fill="none" stroke="#e8202a" stroke-width="1.1" stroke-linejoin="round"/>
<circle cx="39.80" cy="216.30" r="1.0" fill="#e8202a"/>
<line x1="49.59" y1="228.14" x2="49.59" y2="235.54" stroke="#f08080" stroke-width="0.65"/>
<line x1="48.39" y1="228.14" x2="50.79" y2="228.14" stroke="#f08080" stroke-width="0.6"/>
<line x1="48.39" y1="235.54" x2="50.79" y2="235.54" stroke="#f08080" stroke-width="0.6"/>
<circle cx="49.59" cy="231.84" r="1.0" fill="#e8202a"/>
<line x1="59.38" y1="242.94" x2="59.38" y2="248.86" stroke="#f08080" stroke-width="0.65"/>
<line x1="58.18" y1="242.94" x2="60.58" y2="242.94" stroke="#f08080" stroke-width="0.6"/>
<line x1="58.18" y1="248.86" x2="60.58" y2="248.86" stroke="#f08080" stroke-width="0.6"/>
<circle cx="59.38" cy="245.90" r="1.0" fill="#e8202a"/>
<line x1="69.17" y1="256.26" x2="69.17" y2="260.70" stroke="#f08080" stroke-width="0.65"/>
<line x1="67.97" y1="256.26" x2="70.37" y2="256.26" stroke="#f08080" stroke-width="0.6"/>
<line x1="67.97" y1="260.70" x2="70.37" y2="260.70" stroke="#f08080" stroke-width="0.6"/>
<circle cx="69.17" cy="258.48" r="1.0" fill="#e8202a"/>
<line x1="78.96" y1="266.62" x2="78.96" y2="271.06" stroke="#f08080" stroke-width="0.65"/>
<line x1="77.76" y1="266.62" x2="80.16" y2="266.62" stroke="#f08080" stroke-width="0.6"/>
<line x1="77.76" y1="271.06" x2="80.16" y2="271.06" stroke="#f08080" stroke-width="0.6"/>
<circle cx="78.96" cy="268.84" r="1.0" fill="#e8202a"/>
<line x1="88.75" y1="279.94" x2="88.75" y2="284.38" stroke="#f08080" stroke-width="0.65"/>
<line x1="87.55" y1="279.94" x2="89.95" y2="279.94" stroke="#f08080" stroke-width="0.6"/>
<line x1="87.55" y1="284.38" x2="89.95" y2="284.38" stroke="#f08080" stroke-width="0.6"/>
<circle cx="88.75" cy="282.16" r="1.0" fill="#e8202a"/>
<line x1="98.54" y1="281.42" x2="98.54" y2="284.38" stroke="#f08080" stroke-width="0.65"/>
<line x1="97.34" y1="281.42" x2="99.74" y2="281.42" stroke="#f08080" stroke-width="0.6"/>
<line x1="97.34" y1="284.38" x2="99.74" y2="284.38" stroke="#f08080" stroke-width="0.6"/>
<circle cx="98.54" cy="282.90" r="1.0" fill="#e8202a"/>
<line x1="108.33" y1="281.42" x2="108.33" y2="284.38" stroke="#f08080" stroke-width="0.65"/>
<line x1="107.13" y1="281.42" x2="109.53" y2="281.42" stroke="#f08080" stroke-width="0.6"/>
<line x1="107.13" y1="284.38" x2="109.53" y2="284.38" stroke="#f08080" stroke-width="0.6"/>
<circle cx="108.33" cy="282.90" r="1.0" fill="#e8202a"/>
<line x1="118.12" y1="282.16" x2="118.12" y2="285.12" stroke="#f08080" stroke-width="0.65"/>
<line x1="116.92" y1="282.16" x2="119.32" y2="282.16" stroke="#f08080" stroke-width="0.6"/>
<line x1="116.92" y1="285.12" x2="119.32" y2="285.12" stroke="#f08080" stroke-width="0.6"/>
<circle cx="118.12" cy="283.64" r="1.0" fill="#e8202a"/>
<line x1="127.91" y1="285.86" x2="127.91" y2="287.34" stroke="#f08080" stroke-width="0.65"/>
<line x1="126.71" y1="285.86" x2="129.11" y2="285.86" stroke="#f08080" stroke-width="0.6"/>
<line x1="126.71" y1="287.34" x2="129.11" y2="287.34" stroke="#f08080" stroke-width="0.6"/>
<circle cx="127.91" cy="286.60" r="1.0" fill="#e8202a"/>
<line x1="137.70" y1="287.34" x2="137.70" y2="288.82" stroke="#f08080" stroke-width="0.65"/>
<line x1="136.50" y1="287.34" x2="138.90" y2="287.34" stroke="#f08080" stroke-width="0.6"/>
<line x1="136.50" y1="288.82" x2="138.90" y2="288.82" stroke="#f08080" stroke-width="0.6"/>
<circle cx="137.70" cy="288.08" r="1.0" fill="#e8202a"/>
<rect x="36.20" y="266.20" width="37.50" height="22.70" fill="#fff" stroke="#555" stroke-width="0.8"/>
<circle cx="39.30" cy="270.20" r="0.75" fill="#222"/>
<text x="42.80" y="272.06" font-size="5.2" font-weight="bold" text-anchor="start" fill="#222" stroke="#222" stroke-width="0.1">Media Only</text>
<circle cx="39.30" cy="275.10" r="0.75" fill="#222"/>
<text x="42.80" y="276.96" font-size="5.2" font-weight="bold" text-anchor="start" fill="#222" stroke="#222" stroke-width="0.1">VDL</text>
<circle cx="39.30" cy="279.90" r="0.75" fill="#222"/>
<text x="42.80" y="281.76" font-size="5.2" font-weight="bold" text-anchor="start" fill="#222" stroke="#222" stroke-width="0.1">3088 + VDL</text>
<circle cx="39.30" cy="285.00" r="0.75" fill="#e8202a"/>
<text x="42.80" y="286.86" font-size="5.2" font-weight="bold" text-anchor="start" fill="#e8202a" stroke="#e8202a" stroke-width="0.1">3042 + VDL</text>
<line x1="34.50" y1="321.00" x2="34.50" y2="394.70" stroke="#999" stroke-width="1.2"/>
<line x1="34.10" y1="394.40" x2="144.00" y2="394.40" stroke="#888" stroke-width="1.0"/>
<text x="32.10" y="396.76" font-size="6.6" font-weight="bold" text-anchor="end" fill="#222" stroke="#222" stroke-width="0.25">0</text>
<text x="32.10" y="382.64" font-size="6.6" font-weight="bold" text-anchor="end" fill="#222" stroke="#222" stroke-width="0.25">20</text>
<text x="32.10" y="368.52" font-size="6.6" font-weight="bold" text-anchor="end" fill="#222" stroke="#222" stroke-width="0.25">40</text>
<text x="32.10" y="354.40" font-size="6.6" font-weight="bold" text-anchor="end" fill="#222" stroke="#222" stroke-width="0.25">60</text>
<text x="32.10" y="340.28" font-size="6.6" font-weight="bold" text-anchor="end" fill="#222" stroke="#222" stroke-width="0.25">80</text>
<text x="32.10" y="326.16" font-size="6.6" font-weight="bold" text-anchor="end" fill="#222" stroke="#222" stroke-width="0.25">100</text>
<text x="40.30" y="401.96" font-size="6.6" font-weight="bold" text-anchor="middle" fill="#222" stroke="#222" stroke-width="0.25">0</text>
<text x="52.56" y="401.96" font-size="6.6" font-weight="bold" text-anchor="middle" fill="#222" stroke="#222" stroke-width="0.25">1</text>
<text x="64.82" y="401.96" font-size="6.6" font-weight="bold" text-anchor="middle" fill="#222" stroke="#222" stroke-width="0.25">3</text>
<text x="77.08" y="401.96" font-size="6.6" font-weight="bold" text-anchor="middle" fill="#222" stroke="#222" stroke-width="0.25">5</text>
<text x="89.34" y="401.96" font-size="6.6" font-weight="bold" text-anchor="middle" fill="#222" stroke="#222" stroke-width="0.25">7</text>
<text x="101.60" y="401.96" font-size="6.6" font-weight="bold" text-anchor="middle" fill="#222" stroke="#222" stroke-width="0.25">9</text>
<text x="113.86" y="401.96" font-size="6.6" font-weight="bold" text-anchor="middle" fill="#222" stroke="#222" stroke-width="0.25">11</text>
<text x="126.12" y="401.96" font-size="6.6" font-weight="bold" text-anchor="middle" fill="#222" stroke="#222" stroke-width="0.25">15</text>
<text x="138.38" y="401.96" font-size="6.6" font-weight="bold" text-anchor="middle" fill="#222" stroke="#222" stroke-width="0.25">18</text>
<text x="94.30" y="409.81" font-size="7.0" font-weight="bold" text-anchor="middle" fill="#111" stroke="#111" stroke-width="0.25">Days Post-Treatment</text>
<text x="3.80" y="362.47" font-size="6.9" font-weight="bold" text-anchor="middle" fill="#111" stroke="#111" stroke-width="0.25" transform="rotate(-90 3.80 360.00)">Cell Viability</text>
<text x="12.30" y="362.47" font-size="6.9" font-weight="bold" text-anchor="middle" fill="#111" stroke="#111" stroke-width="0.25" transform="rotate(-90 12.30 360.00)">of Initial [%]</text>
<text x="34.60" y="318.26" font-size="8.0" font-weight="normal" text-anchor="start" fill="#222">LAX7R</text>
<polyline points="40.30,323.80 52.56,331.57 64.82,325.92 77.08,335.80 89.34,338.63 101.60,326.62 113.86,338.63 126.12,336.51 138.38,339.33" fill="none" stroke="#333" stroke-width="1.05" stroke-linejoin="round"/>
<circle cx="40.30" cy="323.80" r="1.0" fill="#333"/>
<line x1="52.56" y1="329.45" x2="52.56" y2="333.68" stroke="#333" stroke-width="0.65"/>
<line x1="51.36" y1="329.45" x2="53.76" y2="329.45" stroke="#333" stroke-width="0.6"/>
<line x1="51.36" y1="333.68" x2="53.76" y2="333.68" stroke="#333" stroke-width="0.6"/>
<circle cx="52.56" cy="331.57" r="1.0" fill="#333"/>
<line x1="64.82" y1="324.51" x2="64.82" y2="327.33" stroke="#333" stroke-width="0.65"/>
<line x1="63.62" y1="324.51" x2="66.02" y2="324.51" stroke="#333" stroke-width="0.6"/>
<line x1="63.62" y1="327.33" x2="66.02" y2="327.33" stroke="#333" stroke-width="0.6"/>
<circle cx="64.82" cy="325.92" r="1.0" fill="#333"/>
<line x1="77.08" y1="333.68" x2="77.08" y2="337.92" stroke="#333" stroke-width="0.65"/>
<line x1="75.88" y1="333.68" x2="78.28" y2="333.68" stroke="#333" stroke-width="0.6"/>
<line x1="75.88" y1="337.92" x2="78.28" y2="337.92" stroke="#333" stroke-width="0.6"/>
<circle cx="77.08" cy="335.80" r="1.0" fill="#333"/>
<line x1="89.34" y1="336.51" x2="89.34" y2="340.74" stroke="#333" stroke-width="0.65"/>
<line x1="88.14" y1="336.51" x2="90.54" y2="336.51" stroke="#333" stroke-width="0.6"/>
<line x1="88.14" y1="340.74" x2="90.54" y2="340.74" stroke="#333" stroke-width="0.6"/>
<circle cx="89.34" cy="338.63" r="1.0" fill="#333"/>
<line x1="101.60" y1="325.92" x2="101.60" y2="327.33" stroke="#333" stroke-width="0.65"/>
<line x1="100.40" y1="325.92" x2="102.80" y2="325.92" stroke="#333" stroke-width="0.6"/>
<line x1="100.40" y1="327.33" x2="102.80" y2="327.33" stroke="#333" stroke-width="0.6"/>
<circle cx="101.60" cy="326.62" r="1.0" fill="#333"/>
<line x1="113.86" y1="336.51" x2="113.86" y2="340.74" stroke="#333" stroke-width="0.65"/>
<line x1="112.66" y1="336.51" x2="115.06" y2="336.51" stroke="#333" stroke-width="0.6"/>
<line x1="112.66" y1="340.74" x2="115.06" y2="340.74" stroke="#333" stroke-width="0.6"/>
<circle cx="113.86" cy="338.63" r="1.0" fill="#333"/>
<line x1="126.12" y1="334.39" x2="126.12" y2="338.63" stroke="#333" stroke-width="0.65"/>
<line x1="124.92" y1="334.39" x2="127.32" y2="334.39" stroke="#333" stroke-width="0.6"/>
<line x1="124.92" y1="338.63" x2="127.32" y2="338.63" stroke="#333" stroke-width="0.6"/>
<circle cx="126.12" cy="336.51" r="1.0" fill="#333"/>
<line x1="138.38" y1="337.21" x2="138.38" y2="341.45" stroke="#333" stroke-width="0.65"/>
<line x1="137.18" y1="337.21" x2="139.58" y2="337.21" stroke="#333" stroke-width="0.6"/>
<line x1="137.18" y1="341.45" x2="139.58" y2="341.45" stroke="#333" stroke-width="0.6"/>
<circle cx="138.38" cy="339.33" r="1.0" fill="#333"/>
<polyline points="40.30,323.80 52.56,337.92 64.82,356.98 77.08,365.45 89.34,365.45 101.60,334.39 113.86,343.57 126.12,343.57 138.38,335.10" fill="none" stroke="#222" stroke-width="1.05" stroke-linejoin="round"/>
<circle cx="40.30" cy="323.80" r="1.0" fill="#222"/>
<line x1="52.56" y1="335.80" x2="52.56" y2="340.04" stroke="#222" stroke-width="0.65"/>
<line x1="51.36" y1="335.80" x2="53.76" y2="335.80" stroke="#222" stroke-width="0.6"/>
<line x1="51.36" y1="340.04" x2="53.76" y2="340.04" stroke="#222" stroke-width="0.6"/>
<circle cx="52.56" cy="337.92" r="1.0" fill="#222"/>
<line x1="64.82" y1="354.86" x2="64.82" y2="359.10" stroke="#222" stroke-width="0.65"/>
<line x1="63.62" y1="354.86" x2="66.02" y2="354.86" stroke="#222" stroke-width="0.6"/>
<line x1="63.62" y1="359.10" x2="66.02" y2="359.10" stroke="#222" stroke-width="0.6"/>
<circle cx="64.82" cy="356.98" r="1.0" fill="#222"/>
<line x1="77.08" y1="363.34" x2="77.08" y2="367.57" stroke="#222" stroke-width="0.65"/>
<line x1="75.88" y1="363.34" x2="78.28" y2="363.34" stroke="#222" stroke-width="0.6"/>
<line x1="75.88" y1="367.57" x2="78.28" y2="367.57" stroke="#222" stroke-width="0.6"/>
<circle cx="77.08" cy="365.45" r="1.0" fill="#222"/>
<line x1="89.34" y1="363.34" x2="89.34" y2="367.57" stroke="#222" stroke-width="0.65"/>
<line x1="88.14" y1="363.34" x2="90.54" y2="363.34" stroke="#222" stroke-width="0.6"/>
<line x1="88.14" y1="367.57" x2="90.54" y2="367.57" stroke="#222" stroke-width="0.6"/>
<circle cx="89.34" cy="365.45" r="1.0" fill="#222"/>
<line x1="101.60" y1="332.27" x2="101.60" y2="336.51" stroke="#222" stroke-width="0.65"/>
<line x1="100.40" y1="332.27" x2="102.80" y2="332.27" stroke="#222" stroke-width="0.6"/>
<line x1="100.40" y1="336.51" x2="102.80" y2="336.51" stroke="#222" stroke-width="0.6"/>
<circle cx="101.60" cy="334.39" r="1.0" fill="#222"/>
<line x1="113.86" y1="341.45" x2="113.86" y2="345.69" stroke="#222" stroke-width="0.65"/>
<line x1="112.66" y1="341.45" x2="115.06" y2="341.45" stroke="#222" stroke-width="0.6"/>
<line x1="112.66" y1="345.69" x2="115.06" y2="345.69" stroke="#222" stroke-width="0.6"/>
<circle cx="113.86" cy="343.57" r="1.0" fill="#222"/>
<line x1="126.12" y1="341.45" x2="126.12" y2="345.69" stroke="#222" stroke-width="0.65"/>
<line x1="124.92" y1="341.45" x2="127.32" y2="341.45" stroke="#222" stroke-width="0.6"/>
<line x1="124.92" y1="345.69" x2="127.32" y2="345.69" stroke="#222" stroke-width="0.6"/>
<circle cx="126.12" cy="343.57" r="1.0" fill="#222"/>
<line x1="138.38" y1="332.98" x2="138.38" y2="337.21" stroke="#222" stroke-width="0.65"/>
<line x1="137.18" y1="332.98" x2="139.58" y2="332.98" stroke="#222" stroke-width="0.6"/>
<line x1="137.18" y1="337.21" x2="139.58" y2="337.21" stroke="#222" stroke-width="0.6"/>
<circle cx="138.38" cy="335.10" r="1.0" fill="#222"/>
<polyline points="40.30,323.80 52.56,338.63 64.82,356.28 77.08,367.57 89.34,366.87 101.60,337.92 113.86,346.39 126.12,345.69 138.38,338.63" fill="none" stroke="#111" stroke-width="1.05" stroke-linejoin="round"/>
<circle cx="40.30" cy="323.80" r="1.0" fill="#111"/>
<line x1="52.56" y1="336.51" x2="52.56" y2="340.74" stroke="#111" stroke-width="0.65"/>
<line x1="51.36" y1="336.51" x2="53.76" y2="336.51" stroke="#111" stroke-width="0.6"/>
<line x1="51.36" y1="340.74" x2="53.76" y2="340.74" stroke="#111" stroke-width="0.6"/>
<circle cx="52.56" cy="338.63" r="1.0" fill="#111"/>
<line x1="64.82" y1="354.16" x2="64.82" y2="358.39" stroke="#111" stroke-width="0.65"/>
<line x1="63.62" y1="354.16" x2="66.02" y2="354.16" stroke="#111" stroke-width="0.6"/>
<line x1="63.62" y1="358.39" x2="66.02" y2="358.39" stroke="#111" stroke-width="0.6"/>
<circle cx="64.82" cy="356.28" r="1.0" fill="#111"/>
<line x1="77.08" y1="365.45" x2="77.08" y2="369.69" stroke="#111" stroke-width="0.65"/>
<line x1="75.88" y1="365.45" x2="78.28" y2="365.45" stroke="#111" stroke-width="0.6"/>
<line x1="75.88" y1="369.69" x2="78.28" y2="369.69" stroke="#111" stroke-width="0.6"/>
<circle cx="77.08" cy="367.57" r="1.0" fill="#111"/>
<line x1="89.34" y1="364.75" x2="89.34" y2="368.98" stroke="#111" stroke-width="0.65"/>
<line x1="88.14" y1="364.75" x2="90.54" y2="364.75" stroke="#111" stroke-width="0.6"/>
<line x1="88.14" y1="368.98" x2="90.54" y2="368.98" stroke="#111" stroke-width="0.6"/>
<circle cx="89.34" cy="366.87" r="1.0" fill="#111"/>
<line x1="101.60" y1="335.80" x2="101.60" y2="340.04" stroke="#111" stroke-width="0.65"/>
<line x1="100.40" y1="335.80" x2="102.80" y2="335.80" stroke="#111" stroke-width="0.6"/>
<line x1="100.40" y1="340.04" x2="102.80" y2="340.04" stroke="#111" stroke-width="0.6"/>
<circle cx="101.60" cy="337.92" r="1.0" fill="#111"/>
<line x1="113.86" y1="344.27" x2="113.86" y2="348.51" stroke="#111" stroke-width="0.65"/>
<line x1="112.66" y1="344.27" x2="115.06" y2="344.27" stroke="#111" stroke-width="0.6"/>
<line x1="112.66" y1="348.51" x2="115.06" y2="348.51" stroke="#111" stroke-width="0.6"/>
<circle cx="113.86" cy="346.39" r="1.0" fill="#111"/>
<line x1="126.12" y1="343.57" x2="126.12" y2="347.80" stroke="#111" stroke-width="0.65"/>
<line x1="124.92" y1="343.57" x2="127.32" y2="343.57" stroke="#111" stroke-width="0.6"/>
<line x1="124.92" y1="347.80" x2="127.32" y2="347.80" stroke="#111" stroke-width="0.6"/>
<circle cx="126.12" cy="345.69" r="1.0" fill="#111"/>
<line x1="138.38" y1="336.51" x2="138.38" y2="340.74" stroke="#111" stroke-width="0.65"/>
<line x1="137.18" y1="336.51" x2="139.58" y2="336.51" stroke="#111" stroke-width="0.6"/>
<line x1="137.18" y1="340.74" x2="139.58" y2="340.74" stroke="#111" stroke-width="0.6"/>
<circle cx="138.38" cy="338.63" r="1.0" fill="#111"/>
<polyline points="40.30,323.80 52.56,340.74 64.82,361.22 77.08,369.69 89.34,378.16 101.60,371.10 113.86,383.81 126.12,384.52 138.38,384.52" fill="none" stroke="#e8202a" stroke-width="1.1" stroke-linejoin="round"/>
<circle cx="40.30" cy="323.80" r="1.0" fill="#e8202a"/>
<line x1="52.56" y1="338.63" x2="52.56" y2="342.86" stroke="#f08080" stroke-width="0.65"/>
<line x1="51.36" y1="338.63" x2="53.76" y2="338.63" stroke="#f08080" stroke-width="0.6"/>
<line x1="51.36" y1="342.86" x2="53.76" y2="342.86" stroke="#f08080" stroke-width="0.6"/>
<circle cx="52.56" cy="340.74" r="1.0" fill="#e8202a"/>
<line x1="64.82" y1="359.10" x2="64.82" y2="363.34" stroke="#f08080" stroke-width="0.65"/>
<line x1="63.62" y1="359.10" x2="66.02" y2="359.10" stroke="#f08080" stroke-width="0.6"/>
<line x1="63.62" y1="363.34" x2="66.02" y2="363.34" stroke="#f08080" stroke-width="0.6"/>
<circle cx="64.82" cy="361.22" r="1.0" fill="#e8202a"/>
<line x1="77.08" y1="367.57" x2="77.08" y2="371.81" stroke="#f08080" stroke-width="0.65"/>
<line x1="75.88" y1="367.57" x2="78.28" y2="367.57" stroke="#f08080" stroke-width="0.6"/>
<line x1="75.88" y1="371.81" x2="78.28" y2="371.81" stroke="#f08080" stroke-width="0.6"/>
<circle cx="77.08" cy="369.69" r="1.0" fill="#e8202a"/>
<line x1="89.34" y1="376.04" x2="89.34" y2="380.28" stroke="#f08080" stroke-width="0.65"/>
<line x1="88.14" y1="376.04" x2="90.54" y2="376.04" stroke="#f08080" stroke-width="0.6"/>
<line x1="88.14" y1="380.28" x2="90.54" y2="380.28" stroke="#f08080" stroke-width="0.6"/>
<circle cx="89.34" cy="378.16" r="1.0" fill="#e8202a"/>
<line x1="101.60" y1="370.40" x2="101.60" y2="371.81" stroke="#f08080" stroke-width="0.65"/>
<line x1="100.40" y1="370.40" x2="102.80" y2="370.40" stroke="#f08080" stroke-width="0.6"/>
<line x1="100.40" y1="371.81" x2="102.80" y2="371.81" stroke="#f08080" stroke-width="0.6"/>
<circle cx="101.60" cy="371.10" r="1.0" fill="#e8202a"/>
<line x1="113.86" y1="381.69" x2="113.86" y2="385.93" stroke="#f08080" stroke-width="0.65"/>
<line x1="112.66" y1="381.69" x2="115.06" y2="381.69" stroke="#f08080" stroke-width="0.6"/>
<line x1="112.66" y1="385.93" x2="115.06" y2="385.93" stroke="#f08080" stroke-width="0.6"/>
<circle cx="113.86" cy="383.81" r="1.0" fill="#e8202a"/>
<line x1="126.12" y1="383.10" x2="126.12" y2="385.93" stroke="#f08080" stroke-width="0.65"/>
<line x1="124.92" y1="383.10" x2="127.32" y2="383.10" stroke="#f08080" stroke-width="0.6"/>
<line x1="124.92" y1="385.93" x2="127.32" y2="385.93" stroke="#f08080" stroke-width="0.6"/>
<circle cx="126.12" cy="384.52" r="1.0" fill="#e8202a"/>
<line x1="138.38" y1="383.10" x2="138.38" y2="385.93" stroke="#f08080" stroke-width="0.65"/>
<line x1="137.18" y1="383.10" x2="139.58" y2="383.10" stroke="#f08080" stroke-width="0.6"/>
<line x1="137.18" y1="385.93" x2="139.58" y2="385.93" stroke="#f08080" stroke-width="0.6"/>
<circle cx="138.38" cy="384.52" r="1.0" fill="#e8202a"/>
<rect x="37.00" y="369.20" width="35.70" height="23.00" fill="#fff" stroke="#555" stroke-width="0.8"/>
<circle cx="40.10" cy="373.90" r="0.75" fill="#222"/>
<text x="43.60" y="375.65" font-size="4.9" font-weight="bold" text-anchor="start" fill="#222" stroke="#222" stroke-width="0.1">Media Only</text>
<circle cx="40.10" cy="378.70" r="0.75" fill="#222"/>
<text x="43.60" y="380.45" font-size="4.9" font-weight="bold" text-anchor="start" fill="#222" stroke="#222" stroke-width="0.1">VDL</text>
<circle cx="40.10" cy="383.50" r="0.75" fill="#222"/>
<text x="43.60" y="385.25" font-size="4.9" font-weight="bold" text-anchor="start" fill="#222" stroke="#222" stroke-width="0.1">3088 + VDL</text>
<circle cx="40.10" cy="388.20" r="0.75" fill="#e8202a"/>
<text x="43.60" y="389.95" font-size="4.9" font-weight="bold" text-anchor="start" fill="#e8202a" stroke="#e8202a" stroke-width="0.1">3042 + VDL</text>
<text x="197.70" y="17.03" font-size="6.8" font-weight="bold" text-anchor="middle" fill="#111" stroke="#111" stroke-width="0.25">SFO2</text>
<text x="231.70" y="17.03" font-size="6.8" font-weight="bold" text-anchor="middle" fill="#111" stroke="#111" stroke-width="0.25">SFO3</text>
<text x="264.90" y="17.03" font-size="6.8" font-weight="bold" text-anchor="middle" fill="#111" stroke="#111" stroke-width="0.25">TXL2</text>
<text x="297.40" y="17.03" font-size="6.8" font-weight="bold" text-anchor="middle" fill="#111" stroke="#111" stroke-width="0.25">LAX1R</text>
<text x="331.00" y="17.03" font-size="6.8" font-weight="bold" text-anchor="middle" fill="#111" stroke="#111" stroke-width="0.25">ICN1</text>
<line x1="157.80" y1="19.20" x2="387.50" y2="19.20" stroke="#444" stroke-width="1.1"/>
<rect x="161.00" y="23.80" width="20.00" height="15.40" fill="#d6d6d6" stroke="none" stroke-width="1"/>
<rect x="161.00" y="41.00" width="20.00" height="15.00" fill="#dadada" stroke="none" stroke-width="1"/>
<rect x="181.70" y="23.80" width="32.10" height="15.40" fill="#e7e7e7" stroke="none" stroke-width="1"/>
<rect x="181.70" y="41.00" width="32.10" height="15.00" fill="#dadada" stroke="none" stroke-width="1"/>
<rect x="214.70" y="23.80" width="33.30" height="15.40" fill="#e6e6e6" stroke="none" stroke-width="1"/>
<rect x="214.70" y="41.00" width="33.30" height="15.00" fill="#d8d8d8" stroke="none" stroke-width="1"/>
<rect x="248.60" y="23.80" width="31.00" height="15.40" fill="#e0e0e0" stroke="none" stroke-width="1"/>
<rect x="248.60" y="41.00" width="31.00" height="15.00" fill="#dadada" stroke="none" stroke-width="1"/>
<rect x="280.40" y="23.80" width="32.30" height="15.40" fill="#e0e0e0" stroke="none" stroke-width="1"/>
<rect x="280.40" y="41.00" width="32.30" height="15.00" fill="#d4d4d4" stroke="none" stroke-width="1"/>
<rect x="314.70" y="23.80" width="34.30" height="15.40" fill="#ffffff" stroke="none" stroke-width="1"/>
<rect x="314.70" y="41.00" width="34.30" height="15.00" fill="#ffffff" stroke="none" stroke-width="1"/>
<rect x="184.00" y="29.80" width="12.00" height="3.40" rx="1.70" fill="#bcbcbc" filter="url(#b2)"/>
<rect x="198.50" y="29.80" width="12.50" height="3.40" rx="1.70" fill="#c4c4c4" filter="url(#b2)"/>
<rect x="216.00" y="27.60" width="14.00" height="5.20" rx="2.60" fill="#262626" filter="url(#bb)"/>
<rect x="231.50" y="28.40" width="13.50" height="4.20" rx="2.10" fill="#858585" filter="url(#bb)"/>
<rect x="250.50" y="28.70" width="15.50" height="5.80" rx="2.90" fill="#2e2e2e" filter="url(#bb)"/>
<rect x="266.00" y="29.10" width="13.00" height="5.00" rx="2.50" fill="#454545" filter="url(#bb)"/>
<rect x="283.50" y="28.90" width="12.50" height="3.80" rx="1.90" fill="#9a9a9a" filter="url(#b2)"/>
<rect x="299.00" y="29.00" width="12.50" height="3.60" rx="1.80" fill="#aaaaaa" filter="url(#b2)"/>
<rect x="315.20" y="29.70" width="14.80" height="5.00" rx="2.50" fill="#0a0a0a" filter="url(#bb)"/>
<rect x="332.00" y="30.20" width="15.50" height="4.00" rx="2.00" fill="#262626" filter="url(#bb)"/>
<rect x="163.80" y="44.20" width="16.80" height="9.20" rx="4.60" fill="#161616" filter="url(#bb)"/>
<rect x="182.00" y="44.50" width="16.00" height="8.00" rx="4.00" fill="#1c1c1c" filter="url(#bb)"/>
<rect x="197.00" y="44.50" width="16.20" height="8.00" rx="4.00" fill="#1c1c1c" filter="url(#bb)"/>
<rect x="215.00" y="44.20" width="16.80" height="8.20" rx="4.10" fill="#1c1c1c" filter="url(#bb)"/>
<rect x="230.80" y="43.70" width="16.80" height="8.60" rx="4.30" fill="#1c1c1c" filter="url(#bb)"/>
<rect x="250.00" y="45.20" width="14.80" height="5.60" rx="2.80" fill="#2c2c2c" filter="url(#bb)"/>
<rect x="265.60" y="45.30" width="13.40" height="5.40" rx="2.70" fill="#2c2c2c" filter="url(#bb)"/>
<rect x="281.00" y="44.00" width="16.20" height="8.60" rx="4.30" fill="#202020" filter="url(#bb)"/>
<rect x="296.20" y="43.70" width="16.20" height="8.60" rx="4.30" fill="#202020" filter="url(#bb)"/>
<rect x="315.20" y="47.10" width="14.80" height="4.80" rx="2.40" fill="#060606" filter="url(#bb)"/>
<rect x="331.00" y="47.10" width="17.00" height="4.80" rx="2.40" fill="#060606" filter="url(#bb)"/>
<text x="356.40" y="33.86" font-size="7.7" font-weight="bold" text-anchor="start" fill="#111" stroke="#111" stroke-width="0.25">Survivin</text>
<text x="356.40" y="50.56" font-size="7.7" font-weight="bold" text-anchor="start" fill="#111" stroke="#111" stroke-width="0.25">β–Actin</text>
<line x1="157.80" y1="58.70" x2="387.50" y2="58.70" stroke="#555" stroke-width="1.6"/>
<text x="172.60" y="77.67" font-size="6.9" font-weight="bold" text-anchor="middle" fill="#111" stroke="#111" stroke-width="0.25" transform="rotate(-90 172.60 75.20)">MNCs</text>
<text x="190.40" y="71.77" font-size="6.9" font-weight="bold" text-anchor="middle" fill="#111" stroke="#111" stroke-width="0.25">Ctrl.</text>
<text x="205.00" y="71.77" font-size="6.9" font-weight="bold" text-anchor="middle" fill="#111" stroke="#111" stroke-width="0.25">-</text>
<text x="190.40" y="84.77" font-size="6.9" font-weight="bold" text-anchor="middle" fill="#111" stroke="#111" stroke-width="0.25">-</text>
<text x="206.70" y="84.77" font-size="6.9" font-weight="bold" text-anchor="middle" fill="#111" stroke="#111" stroke-width="0.25">ASO</text>
<text x="225.00" y="71.77" font-size="6.9" font-weight="bold" text-anchor="middle" fill="#111" stroke="#111" stroke-width="0.25">Ctrl.</text>
<text x="239.30" y="71.77" font-size="6.9" font-weight="bold" text-anchor="middle" fill="#111" stroke="#111" stroke-width="0.25">-</text>
<text x="225.00" y="84.77" font-size="6.9" font-weight="bold" text-anchor="middle" fill="#111" stroke="#111" stroke-width="0.25">-</text>
<text x="241.00" y="84.77" font-size="6.9" font-weight="bold" text-anchor="middle" fill="#111" stroke="#111" stroke-width="0.25">ASO</text>
<text x="257.00" y="71.77" font-size="6.9" font-weight="bold" text-anchor="middle" fill="#111" stroke="#111" stroke-width="0.25">Ctrl.</text>
<text x="272.70" y="71.77" font-size="6.9" font-weight="bold" text-anchor="middle" fill="#111" stroke="#111" stroke-width="0.25">-</text>
<text x="257.00" y="84.77" font-size="6.9" font-weight="bold" text-anchor="middle" fill="#111" stroke="#111" stroke-width="0.25">-</text>
<text x="274.40" y="84.77" font-size="6.9" font-weight="bold" text-anchor="middle" fill="#111" stroke="#111" stroke-width="0.25">ASO</text>
<text x="288.70" y="71.77" font-size="6.9" font-weight="bold" text-anchor="middle" fill="#111" stroke="#111" stroke-width="0.25">Ctrl.</text>
<text x="305.30" y="71.77" font-size="6.9" font-weight="bold" text-anchor="middle" fill="#111" stroke="#111" stroke-width="0.25">-</text>
<text x="288.70" y="84.77" font-size="6.9" font-weight="bold" text-anchor="middle" fill="#111" stroke="#111" stroke-width="0.25">-</text>
<text x="307.00" y="84.77" font-size="6.9" font-weight="bold" text-anchor="middle" fill="#111" stroke="#111" stroke-width="0.25">ASO</text>
<text x="322.40" y="71.77" font-size="6.9" font-weight="bold" text-anchor="middle" fill="#111" stroke="#111" stroke-width="0.25">Ctrl.</text>
<text x="338.20" y="71.77" font-size="6.9" font-weight="bold" text-anchor="middle" fill="#111" stroke="#111" stroke-width="0.25">-</text>
<text x="322.40" y="84.77" font-size="6.9" font-weight="bold" text-anchor="middle" fill="#111" stroke="#111" stroke-width="0.25">-</text>
<text x="339.90" y="84.77" font-size="6.9" font-weight="bold" text-anchor="middle" fill="#111" stroke="#111" stroke-width="0.25">ASO</text>
<line x1="158.00" y1="91.40" x2="386.70" y2="91.40" stroke="#555" stroke-width="1.3"/>
<rect x="155.70" y="116.60" width="84.80" height="13.30" fill="#d4d4d4" stroke="none" stroke-width="1"/>
<rect x="206.80" y="116.60" width="33.70" height="13.30" fill="#dedede" stroke="none" stroke-width="1"/>
<rect x="155.70" y="131.30" width="84.80" height="11.60" fill="#d8d8d8" stroke="none" stroke-width="1"/>
<rect x="176.00" y="119.90" width="15.50" height="3.80" rx="1.90" fill="#3a3a3a" filter="url(#bb)"/>
<rect x="191.50" y="119.70" width="14.50" height="3.80" rx="1.90" fill="#2e2e2e" filter="url(#bb)"/>
<rect x="208.50" y="120.00" width="12.50" height="3.60" rx="1.80" fill="#2e2e2e" filter="url(#bb)"/>
<rect x="157.00" y="132.40" width="18.50" height="7.40" rx="3.70" fill="#0e0e0e" filter="url(#bb)"/>
<rect x="174.50" y="133.15" width="31.00" height="6.30" rx="3.15" fill="#161616" filter="url(#bb)"/>
<rect x="207.50" y="133.70" width="13.50" height="5.00" rx="2.50" fill="#161616" filter="url(#bb)"/>
<rect x="224.50" y="133.70" width="14.70" height="5.00" rx="2.50" fill="#161616" filter="url(#bb)"/>
<line x1="206.80" y1="116.60" x2="206.80" y2="142.90" stroke="#fff" stroke-width="0.8"/>
<line x1="155.70" y1="130.60" x2="240.50" y2="130.60" stroke="#fff" stroke-width="1.2"/>
<text x="244.80" y="127.26" font-size="7.7" font-weight="bold" text-anchor="start" fill="#111" stroke="#111" stroke-width="0.25">Survivin</text>
<text x="245.30" y="141.36" font-size="7.7" font-weight="bold" text-anchor="start" fill="#111" stroke="#111" stroke-width="0.25">β–Actin</text>
<line x1="152.70" y1="146.50" x2="275.50" y2="146.50" stroke="#666" stroke-width="1.6"/>
<text x="165.70" y="171.76" font-size="7.7" font-weight="bold" text-anchor="middle" fill="#111" stroke="#111" stroke-width="0.25" transform="rotate(-90 165.70 169.00)">MNCs</text>
<text x="184.50" y="157.27" font-size="6.9" font-weight="bold" text-anchor="middle" fill="#111" stroke="#111" stroke-width="0.25">-</text>
<text x="200.00" y="157.27" font-size="6.9" font-weight="bold" text-anchor="middle" fill="#111" stroke="#111" stroke-width="0.25">TKI</text>
<text x="215.20" y="157.27" font-size="6.9" font-weight="bold" text-anchor="middle" fill="#111" stroke="#111" stroke-width="0.25">TKI</text>
<text x="232.20" y="157.27" font-size="6.9" font-weight="bold" text-anchor="middle" fill="#111" stroke="#111" stroke-width="0.25">TKI</text>
<text x="184.50" y="171.57" font-size="6.9" font-weight="bold" text-anchor="middle" fill="#111" stroke="#111" stroke-width="0.25">-</text>
<text x="200.40" y="171.57" font-size="6.9" font-weight="bold" text-anchor="middle" fill="#111" stroke="#111" stroke-width="0.25">-</text>
<text x="215.60" y="171.57" font-size="6.9" font-weight="bold" text-anchor="middle" fill="#111" stroke="#111" stroke-width="0.25">Ctrl.</text>
<text x="234.90" y="171.57" font-size="6.9" font-weight="bold" text-anchor="middle" fill="#111" stroke="#111" stroke-width="0.25">-</text>
<text x="184.50" y="186.17" font-size="6.9" font-weight="bold" text-anchor="middle" fill="#111" stroke="#111" stroke-width="0.25">-</text>
<text x="200.40" y="186.17" font-size="6.9" font-weight="bold" text-anchor="middle" fill="#111" stroke="#111" stroke-width="0.25">-</text>
<text x="216.00" y="186.17" font-size="6.9" font-weight="bold" text-anchor="middle" fill="#111" stroke="#111" stroke-width="0.25">-</text>
<text x="233.50" y="186.17" font-size="6.9" font-weight="bold" text-anchor="middle" fill="#111" stroke="#111" stroke-width="0.25">ASO</text>
<line x1="152.70" y1="191.30" x2="275.50" y2="191.30" stroke="#555" stroke-width="1.3"/>
<rect x="151.50" y="217.30" width="90.00" height="9.50" fill="#d4d4d4" stroke="none" stroke-width="1"/>
<rect x="151.50" y="227.70" width="90.00" height="12.80" fill="#d8d8d8" stroke="none" stroke-width="1"/>
<rect x="176.00" y="219.30" width="14.00" height="4.80" rx="2.40" fill="#121212" filter="url(#bb)"/>
<rect x="191.50" y="220.20" width="15.70" height="3.40" rx="1.70" fill="#3a3a3a" filter="url(#bb)"/>
<rect x="209.80" y="220.40" width="12.80" height="3.00" rx="1.50" fill="#6a6a6a" filter="url(#bb)"/>
<rect x="156.10" y="231.70" width="17.10" height="4.20" rx="2.10" fill="#1a1a1a" filter="url(#bb)"/>
<rect x="175.30" y="231.70" width="16.10" height="4.20" rx="2.10" fill="#1a1a1a" filter="url(#bb)"/>
<rect x="191.70" y="231.70" width="16.20" height="4.20" rx="2.10" fill="#1a1a1a" filter="url(#bb)"/>
<rect x="209.10" y="231.70" width="16.20" height="4.20" rx="2.10" fill="#1a1a1a" filter="url(#bb)"/>
<rect x="225.60" y="231.70" width="15.20" height="4.20" rx="2.10" fill="#1a1a1a" filter="url(#bb)"/>
<line x1="174.30" y1="217.30" x2="174.30" y2="240.50" stroke="#fff" stroke-width="0.8"/>
<line x1="151.50" y1="227.30" x2="241.50" y2="227.30" stroke="#fff" stroke-width="1.0"/>
<text x="248.20" y="224.96" font-size="7.7" font-weight="bold" text-anchor="start" fill="#111" stroke="#111" stroke-width="0.25">Survivin</text>
<text x="248.20" y="240.16" font-size="7.7" font-weight="bold" text-anchor="start" fill="#111" stroke="#111" stroke-width="0.25">β–Actin</text>
<line x1="151.50" y1="245.40" x2="278.50" y2="245.40" stroke="#666" stroke-width="1.6"/>
<text x="162.50" y="271.36" font-size="7.7" font-weight="bold" text-anchor="middle" fill="#111" stroke="#111" stroke-width="0.25" transform="rotate(-90 162.50 268.60)">MNCs</text>
<text x="181.00" y="256.47" font-size="6.9" font-weight="bold" text-anchor="middle" fill="#111" stroke="#111" stroke-width="0.25">-</text>
<text x="199.80" y="256.47" font-size="6.9" font-weight="bold" text-anchor="middle" fill="#111" stroke="#111" stroke-width="0.25">VDL</text>
<text x="217.30" y="256.47" font-size="6.9" font-weight="bold" text-anchor="middle" fill="#111" stroke="#111" stroke-width="0.25">VDL</text>
<text x="235.80" y="256.47" font-size="6.9" font-weight="bold" text-anchor="middle" fill="#111" stroke="#111" stroke-width="0.25">VDL</text>
<text x="181.00" y="270.77" font-size="6.9" font-weight="bold" text-anchor="middle" fill="#111" stroke="#111" stroke-width="0.25">-</text>
<text x="198.50" y="270.77" font-size="6.9" font-weight="bold" text-anchor="middle" fill="#111" stroke="#111" stroke-width="0.25">-</text>
<text x="217.80" y="270.77" font-size="6.9" font-weight="bold" text-anchor="middle" fill="#111" stroke="#111" stroke-width="0.25">Ctrl.</text>
<text x="236.30" y="270.77" font-size="6.9" font-weight="bold" text-anchor="middle" fill="#111" stroke="#111" stroke-width="0.25">-</text>
<text x="181.00" y="285.57" font-size="6.9" font-weight="bold" text-anchor="middle" fill="#111" stroke="#111" stroke-width="0.25">-</text>
<text x="198.50" y="285.57" font-size="6.9" font-weight="bold" text-anchor="middle" fill="#111" stroke="#111" stroke-width="0.25">-</text>
<text x="216.00" y="285.57" font-size="6.9" font-weight="bold" text-anchor="middle" fill="#111" stroke="#111" stroke-width="0.25">-</text>
<text x="235.60" y="285.57" font-size="6.9" font-weight="bold" text-anchor="middle" fill="#111" stroke="#111" stroke-width="0.25">ASO</text>
<line x1="151.30" y1="290.50" x2="278.80" y2="290.50" stroke="#555" stroke-width="1.3"/>
<rect x="152.00" y="318.50" width="79.70" height="12.20" fill="#e6e6e6" stroke="none" stroke-width="1"/>
<rect x="152.00" y="332.30" width="79.70" height="13.90" fill="#e4e4e4" stroke="none" stroke-width="1"/>
<rect x="170.80" y="323.50" width="13.90" height="3.00" rx="1.50" fill="#5a5a5a" filter="url(#bb)"/>
<rect x="186.40" y="323.50" width="13.80" height="3.00" rx="1.50" fill="#5e5e5e" filter="url(#bb)"/>
<rect x="202.60" y="323.70" width="12.30" height="2.60" rx="1.30" fill="#808080" filter="url(#bb)"/>
<rect x="219.00" y="323.80" width="12.30" height="2.40" rx="1.20" fill="#c4c4c4" filter="url(#bb)"/>
<rect x="153.60" y="335.00" width="17.20" height="7.00" rx="3.50" fill="#080808" filter="url(#bb)"/>
<rect x="170.00" y="335.30" width="15.50" height="6.40" rx="3.20" fill="#0c0c0c" filter="url(#bb)"/>
<rect x="185.60" y="335.00" width="15.50" height="7.00" rx="3.50" fill="#080808" filter="url(#bb)"/>
<rect x="202.00" y="336.00" width="13.80" height="5.00" rx="2.50" fill="#101010" filter="url(#bb)"/>
<rect x="218.30" y="336.30" width="12.90" height="4.40" rx="2.20" fill="#101010" filter="url(#bb)"/>
<text x="235.70" y="327.56" font-size="7.7" font-weight="bold" text-anchor="start" fill="#111" stroke="#111" stroke-width="0.25">Survivin</text>
<text x="235.70" y="341.16" font-size="7.7" font-weight="bold" text-anchor="start" fill="#111" stroke="#111" stroke-width="0.25">β–Actin</text>
<line x1="152.00" y1="350.30" x2="267.20" y2="350.30" stroke="#666" stroke-width="1.6"/>
<text x="161.90" y="374.76" font-size="7.7" font-weight="bold" text-anchor="middle" fill="#111" stroke="#111" stroke-width="0.25" transform="rotate(-90 161.90 372.00)">MNCs</text>
<text x="177.00" y="361.47" font-size="6.9" font-weight="bold" text-anchor="middle" fill="#111" stroke="#111" stroke-width="0.25">-</text>
<text x="194.70" y="361.47" font-size="6.9" font-weight="bold" text-anchor="middle" fill="#111" stroke="#111" stroke-width="0.25">VDL</text>
<text x="210.90" y="361.47" font-size="6.9" font-weight="bold" text-anchor="middle" fill="#111" stroke="#111" stroke-width="0.25">VDL</text>
<text x="227.00" y="361.47" font-size="6.9" font-weight="bold" text-anchor="middle" fill="#111" stroke="#111" stroke-width="0.25">VDL</text>
<text x="177.00" y="375.77" font-size="6.9" font-weight="bold" text-anchor="middle" fill="#111" stroke="#111" stroke-width="0.25">-</text>
<text x="193.10" y="375.77" font-size="6.9" font-weight="bold" text-anchor="middle" fill="#111" stroke="#111" stroke-width="0.25">-</text>
<text x="210.40" y="375.77" font-size="6.9" font-weight="bold" text-anchor="middle" fill="#111" stroke="#111" stroke-width="0.25">Ctrl.</text>
<text x="225.50" y="375.77" font-size="6.9" font-weight="bold" text-anchor="middle" fill="#111" stroke="#111" stroke-width="0.25">-</text>
<text x="177.00" y="390.07" font-size="6.9" font-weight="bold" text-anchor="middle" fill="#111" stroke="#111" stroke-width="0.25">-</text>
<text x="193.10" y="390.07" font-size="6.9" font-weight="bold" text-anchor="middle" fill="#111" stroke="#111" stroke-width="0.25">-</text>
<text x="211.50" y="390.07" font-size="6.9" font-weight="bold" text-anchor="middle" fill="#111" stroke="#111" stroke-width="0.25">-</text>
<text x="226.80" y="390.07" font-size="6.9" font-weight="bold" text-anchor="middle" fill="#111" stroke="#111" stroke-width="0.25">ASO</text>
<line x1="151.30" y1="394.20" x2="267.20" y2="394.20" stroke="#555" stroke-width="1.3"/>
<text x="376.70" y="108.69" font-size="7.8" font-weight="bold" text-anchor="middle" fill="#111" stroke="#111" stroke-width="0.25">DMSO</text>
<text x="417.50" y="108.69" font-size="7.8" font-weight="bold" text-anchor="middle" fill="#111" stroke="#111" stroke-width="0.25">Nilotinib</text>
<text x="457.30" y="103.59" font-size="7.8" font-weight="bold" text-anchor="middle" fill="#111" stroke="#111" stroke-width="0.25">EZN-3088</text>
<text x="459.00" y="113.39" font-size="7.8" font-weight="bold" text-anchor="middle" fill="#111" stroke="#111" stroke-width="0.25">+ Nilotinib</text>
<text x="499.00" y="103.59" font-size="7.8" font-weight="bold" text-anchor="middle" fill="#111" stroke="#111" stroke-width="0.25">EZN-3042</text>
<text x="499.60" y="113.39" font-size="7.8" font-weight="bold" text-anchor="middle" fill="#111" stroke="#111" stroke-width="0.25">+ Nilotinib</text>
<text x="319.70" y="159.39" font-size="7.8" font-weight="bold" text-anchor="middle" fill="#111" stroke="#111" stroke-width="0.25" transform="rotate(-90 319.70 156.60)">Post-treatment</text>
<text x="328.80" y="160.19" font-size="7.8" font-weight="bold" text-anchor="middle" fill="#111" stroke="#111" stroke-width="0.25" transform="rotate(-90 328.80 157.40)">Days</text>
<text x="338.60" y="142.99" font-size="7.8" font-weight="bold" text-anchor="middle" fill="#111" stroke="#111" stroke-width="0.25">9</text>
<text x="338.70" y="180.59" font-size="7.8" font-weight="bold" text-anchor="middle" fill="#111" stroke="#111" stroke-width="0.25">15</text>
<line x1="351.60" y1="167.00" x2="351.60" y2="124.50" stroke="#111" stroke-width="1.0"/>
<path d="M349.6,125.2 L351.6,120.8 L353.6,125.2 Z" fill="#111"/>
<text x="352.20" y="187.31" font-size="8.4" font-weight="bold" text-anchor="middle" fill="#111" stroke="#111" stroke-width="0.25" transform="rotate(-90 352.20 184.30)">7-AAD</text>
<text x="378.90" y="205.75" font-size="7.4" font-weight="bold" text-anchor="middle" fill="#111" stroke="#111" stroke-width="0.25">Annexin V</text>
<line x1="404.00" y1="203.20" x2="513.50" y2="203.20" stroke="#111" stroke-width="1.0"/>
<path d="M512.8,201.2 L517.2,203.2 L512.8,205.2 Z" fill="#111"/>
<rect x="357.80" y="120.50" width="36.80" height="36.70" fill="#fff" stroke="#9a9a9a" stroke-width="0.6"/>
<clipPath id="c357120"><rect x="357.8" y="120.5" width="36.80000000000001" height="36.69999999999999"/></clipPath>
<g clip-path="url(#c357120)">
<rect x="363.2" y="144.4" width="0.8" height="0.8" fill="#d01818" opacity="0.71"/>
<rect x="367.5" y="144.8" width="0.8" height="0.8" fill="#d01818" opacity="0.55"/>
<rect x="367.5" y="143.5" width="0.8" height="0.8" fill="#d01818" opacity="0.37"/>
<rect x="362.9" y="140.6" width="0.8" height="0.8" fill="#d01818" opacity="0.40"/>
<rect x="358.8" y="148.1" width="0.8" height="0.8" fill="#d01818" opacity="0.42"/>
<rect x="364.7" y="153.7" width="0.8" height="0.8" fill="#d01818" opacity="0.87"/>
<rect x="361.2" y="134.0" width="0.8" height="0.8" fill="#d01818" opacity="0.89"/>
<rect x="369.9" y="145.1" width="0.8" height="0.8" fill="#d01818" opacity="0.51"/>
<rect x="365.0" y="143.2" width="0.8" height="0.8" fill="#d01818" opacity="0.52"/>
<rect x="364.8" y="132.9" width="0.8" height="0.8" fill="#d01818" opacity="0.67"/>
<rect x="362.1" y="131.1" width="0.8" height="0.8" fill="#d01818" opacity="0.65"/>
<rect x="365.0" y="140.4" width="0.8" height="0.8" fill="#d01818" opacity="0.46"/>
<rect x="362.6" y="128.8" width="0.8" height="0.8" fill="#d01818" opacity="0.52"/>
<rect x="361.1" y="133.0" width="0.8" height="0.8" fill="#d01818" opacity="0.51"/>
<rect x="365.3" y="123.2" width="0.8" height="0.8" fill="#d01818" opacity="0.48"/>
<rect x="360.6" y="133.2" width="0.8" height="0.8" fill="#d01818" opacity="0.83"/>
<rect x="363.7" y="130.3" width="0.8" height="0.8" fill="#d01818" opacity="0.89"/>
<rect x="366.4" y="146.5" width="0.8" height="0.8" fill="#d01818" opacity="0.77"/>
<ellipse cx="380.50" cy="130.50" rx="7.50" ry="5.50" fill="#d01c1c" opacity="0.68" transform="rotate(-20 380.50 130.50)" filter="url(#b2)"/>
<rect x="384.8" y="135.7" width="0.8" height="0.8" fill="#d01818" opacity="0.37"/>
<rect x="376.3" y="123.6" width="0.8" height="0.8" fill="#d01818" opacity="0.67"/>
<rect x="384.5" y="127.9" width="0.8" height="0.8" fill="#d01818" opacity="0.73"/>
<rect x="374.9" y="127.3" width="0.8" height="0.8" fill="#d01818" opacity="0.60"/>
<rect x="372.8" y="132.2" width="0.8" height="0.8" fill="#d01818" opacity="0.38"/>
<rect x="378.6" y="124.1" width="0.8" height="0.8" fill="#d01818" opacity="0.90"/>
<rect x="383.0" y="127.3" width="0.8" height="0.8" fill="#d01818" opacity="0.56"/>
<rect x="380.4" y="130.1" width="0.8" height="0.8" fill="#d01818" opacity="0.60"/>
<rect x="382.4" y="133.2" width="0.8" height="0.8" fill="#d01818" opacity="0.38"/>
<rect x="381.3" y="128.4" width="0.8" height="0.8" fill="#d01818" opacity="0.49"/>
<rect x="372.2" y="137.4" width="0.8" height="0.8" fill="#d01818" opacity="0.39"/>
<rect x="374.3" y="133.0" width="0.8" height="0.8" fill="#d01818" opacity="0.84"/>
<rect x="385.7" y="121.9" width="0.8" height="0.8" fill="#d01818" opacity="0.50"/>
<rect x="376.4" y="133.4" width="0.8" height="0.8" fill="#d01818" opacity="0.84"/>
<rect x="384.1" y="130.2" width="0.8" height="0.8" fill="#d01818" opacity="0.45"/>
<rect x="381.5" y="134.6" width="0.8" height="0.8" fill="#d01818" opacity="0.62"/>
<rect x="377.3" y="128.9" width="0.8" height="0.8" fill="#d01818" opacity="0.35"/>
<rect x="376.3" y="133.3" width="0.8" height="0.8" fill="#d01818" opacity="0.66"/>
<rect x="389.2" y="128.8" width="0.8" height="0.8" fill="#d01818" opacity="0.63"/>
<rect x="374.8" y="125.9" width="0.8" height="0.8" fill="#d01818" opacity="0.38"/>
<rect x="388.9" y="125.9" width="0.8" height="0.8" fill="#d01818" opacity="0.83"/>
<rect x="382.7" y="126.2" width="0.8" height="0.8" fill="#d01818" opacity="0.57"/>
<rect x="387.3" y="135.3" width="0.8" height="0.8" fill="#d01818" opacity="0.38"/>
<rect x="384.5" y="132.4" width="0.8" height="0.8" fill="#d01818" opacity="0.44"/>
<rect x="380.0" y="132.4" width="0.8" height="0.8" fill="#d01818" opacity="0.35"/>
<rect x="382.5" y="132.9" width="0.8" height="0.8" fill="#d01818" opacity="0.55"/>
<rect x="378.6" y="129.1" width="0.8" height="0.8" fill="#d01818" opacity="0.49"/>
<rect x="377.9" y="134.9" width="0.8" height="0.8" fill="#d01818" opacity="0.42"/>
<rect x="374.7" y="132.2" width="0.8" height="0.8" fill="#d01818" opacity="0.40"/>
<rect x="385.1" y="133.7" width="0.8" height="0.8" fill="#d01818" opacity="0.50"/>
<rect x="382.6" y="128.4" width="0.8" height="0.8" fill="#d01818" opacity="0.36"/>
<rect x="387.6" y="129.1" width="0.8" height="0.8" fill="#d01818" opacity="0.43"/>
<rect x="379.7" y="130.7" width="0.8" height="0.8" fill="#d01818" opacity="0.64"/>
<rect x="379.5" y="127.3" width="0.8" height="0.8" fill="#d01818" opacity="0.55"/>
<rect x="385.8" y="138.5" width="0.8" height="0.8" fill="#d01818" opacity="0.64"/>
<rect x="381.9" y="126.6" width="0.8" height="0.8" fill="#d01818" opacity="0.47"/>
<rect x="387.1" y="123.8" width="0.8" height="0.8" fill="#d01818" opacity="0.80"/>
<rect x="380.7" y="127.4" width="0.8" height="0.8" fill="#d01818" opacity="0.63"/>
<rect x="380.2" y="132.0" width="0.8" height="0.8" fill="#d01818" opacity="0.37"/>
<rect x="380.2" y="134.8" width="0.8" height="0.8" fill="#d01818" opacity="0.73"/>
<rect x="386.9" y="129.5" width="0.8" height="0.8" fill="#d01818" opacity="0.87"/>
<rect x="378.4" y="133.7" width="0.8" height="0.8" fill="#d01818" opacity="0.47"/>
<rect x="382.2" y="134.2" width="0.8" height="0.8" fill="#d01818" opacity="0.69"/>
<rect x="389.7" y="125.4" width="0.8" height="0.8" fill="#d01818" opacity="0.61"/>
<rect x="375.2" y="123.6" width="0.8" height="0.8" fill="#d01818" opacity="0.40"/>
<rect x="374.4" y="121.7" width="0.8" height="0.8" fill="#d01818" opacity="0.78"/>
<rect x="381.0" y="125.3" width="0.8" height="0.8" fill="#d01818" opacity="0.45"/>
<rect x="382.2" y="126.6" width="0.8" height="0.8" fill="#d01818" opacity="0.79"/>
<rect x="386.6" y="130.1" width="0.8" height="0.8" fill="#d01818" opacity="0.57"/>
<rect x="389.5" y="128.4" width="0.8" height="0.8" fill="#d01818" opacity="0.44"/>
<rect x="383.2" y="133.0" width="0.8" height="0.8" fill="#d01818" opacity="0.85"/>
<rect x="382.1" y="128.4" width="0.8" height="0.8" fill="#d01818" opacity="0.80"/>
<rect x="389.2" y="130.1" width="0.8" height="0.8" fill="#d01818" opacity="0.54"/>
<rect x="378.2" y="130.2" width="0.8" height="0.8" fill="#d01818" opacity="0.36"/>
<rect x="389.0" y="129.7" width="0.8" height="0.8" fill="#d01818" opacity="0.64"/>
<rect x="386.5" y="128.8" width="0.8" height="0.8" fill="#d01818" opacity="0.83"/>
<rect x="382.8" y="127.9" width="0.8" height="0.8" fill="#d01818" opacity="0.49"/>
<rect x="379.9" y="134.6" width="0.8" height="0.8" fill="#d01818" opacity="0.67"/>
<rect x="380.7" y="136.2" width="0.8" height="0.8" fill="#d01818" opacity="0.42"/>
<rect x="385.4" y="128.5" width="0.8" height="0.8" fill="#d01818" opacity="0.60"/>
<rect x="370.4" y="125.6" width="0.8" height="0.8" fill="#d01818" opacity="0.58"/>
<rect x="386.8" y="128.1" width="0.8" height="0.8" fill="#d01818" opacity="0.64"/>
<rect x="379.9" y="130.9" width="0.8" height="0.8" fill="#d01818" opacity="0.59"/>
<rect x="381.2" y="131.4" width="0.8" height="0.8" fill="#d01818" opacity="0.79"/>
<rect x="384.0" y="136.0" width="0.8" height="0.8" fill="#d01818" opacity="0.75"/>
<rect x="376.3" y="129.5" width="0.8" height="0.8" fill="#d01818" opacity="0.64"/>
<rect x="371.7" y="128.0" width="0.8" height="0.8" fill="#d01818" opacity="0.41"/>
<rect x="377.0" y="129.6" width="0.8" height="0.8" fill="#d01818" opacity="0.50"/>
<rect x="381.9" y="125.1" width="0.8" height="0.8" fill="#d01818" opacity="0.66"/>
<rect x="373.7" y="133.4" width="0.8" height="0.8" fill="#d01818" opacity="0.63"/>
<rect x="372.4" y="130.4" width="0.8" height="0.8" fill="#d01818" opacity="0.60"/>
<rect x="374.7" y="129.8" width="0.8" height="0.8" fill="#d01818" opacity="0.87"/>
<rect x="377.4" y="121.3" width="0.8" height="0.8" fill="#d01818" opacity="0.87"/>
<rect x="380.6" y="137.4" width="0.8" height="0.8" fill="#d01818" opacity="0.87"/>
<rect x="382.6" y="128.7" width="0.8" height="0.8" fill="#d01818" opacity="0.42"/>
<rect x="379.0" y="131.7" width="0.8" height="0.8" fill="#d01818" opacity="0.48"/>
<rect x="388.5" y="134.3" width="0.8" height="0.8" fill="#d01818" opacity="0.78"/>
<rect x="383.6" y="129.3" width="0.8" height="0.8" fill="#d01818" opacity="0.74"/>
<rect x="379.3" y="128.7" width="0.8" height="0.8" fill="#d01818" opacity="0.84"/>
<rect x="384.9" y="130.3" width="0.8" height="0.8" fill="#d01818" opacity="0.87"/>
<rect x="375.8" y="134.4" width="0.8" height="0.8" fill="#d01818" opacity="0.89"/>
<rect x="382.7" y="128.4" width="0.8" height="0.8" fill="#d01818" opacity="0.59"/>
<rect x="375.9" y="130.6" width="0.8" height="0.8" fill="#d01818" opacity="0.46"/>
<ellipse cx="377.50" cy="134.50" rx="5.00" ry="2.60" fill="#d41818" opacity="0.75" transform="rotate(-40 377.50 134.50)" filter="url(#b1)"/>
<ellipse cx="374.20" cy="139.00" rx="5.60" ry="3.30" fill="#d41010" opacity="0.95" transform="rotate(-15 374.20 139.00)" filter="url(#b2)"/>
<ellipse cx="374.20" cy="139.00" rx="4.03" ry="2.38" fill="#ff4a10" opacity="0.95" transform="rotate(-15 374.20 139.00)" filter="url(#b1)"/>
<ellipse cx="374.20" cy="139.00" rx="2.69" ry="1.58" fill="#ffd21e" opacity="1" transform="rotate(-15 374.20 139.00)" filter="url(#b1)"/>
<ellipse cx="364.60" cy="152.50" rx="2.60" ry="4.20" fill="#d41818" opacity="0.6" transform="rotate(0 364.60 152.50)" filter="url(#b1)"/>
<ellipse cx="365.30" cy="145.60" rx="4.80" ry="5.80" fill="#d41010" opacity="0.95" transform="rotate(-5 365.30 145.60)" filter="url(#b2)"/>
<ellipse cx="365.30" cy="145.60" rx="3.46" ry="4.18" fill="#ff4a10" opacity="0.95" transform="rotate(-5 365.30 145.60)" filter="url(#b1)"/>
<ellipse cx="365.30" cy="145.60" rx="2.30" ry="2.78" fill="#ffd21e" opacity="1" transform="rotate(-5 365.30 145.60)" filter="url(#b1)"/>
<ellipse cx="365.30" cy="145.60" rx="0.96" ry="1.16" fill="#58b030" opacity="1" transform="rotate(-5 365.30 145.60)" filter="url(#b0)"/>
</g>
<line x1="357.80" y1="140.40" x2="394.60" y2="140.40" stroke="#8a8a8a" stroke-width="0.6"/>
<rect x="369.00" y="120.50" width="25.60" height="36.70" fill="none" stroke="#111" stroke-width="1.2"/>
<text x="383.40" y="154.42" font-size="6.2" font-weight="bold" text-anchor="middle" fill="#222" stroke="#222" stroke-width="0.25">43%</text>
<rect x="358.30" y="159.20" width="35.90" height="36.30" fill="#fff" stroke="#9a9a9a" stroke-width="0.6"/>
<clipPath id="c358159"><rect x="358.3" y="159.2" width="35.89999999999998" height="36.30000000000001"/></clipPath>
<g clip-path="url(#c358159)">
<rect x="361.6" y="181.0" width="0.8" height="0.8" fill="#d01818" opacity="0.36"/>
<rect x="360.6" y="169.1" width="0.8" height="0.8" fill="#d01818" opacity="0.36"/>
<rect x="361.6" y="179.5" width="0.8" height="0.8" fill="#d01818" opacity="0.63"/>
<rect x="365.2" y="174.7" width="0.8" height="0.8" fill="#d01818" opacity="0.37"/>
<rect x="363.9" y="166.4" width="0.8" height="0.8" fill="#d01818" opacity="0.42"/>
<rect x="358.0" y="178.3" width="0.8" height="0.8" fill="#d01818" opacity="0.80"/>
<rect x="363.4" y="175.2" width="0.8" height="0.8" fill="#d01818" opacity="0.86"/>
<rect x="359.6" y="167.1" width="0.8" height="0.8" fill="#d01818" opacity="0.40"/>
<rect x="367.5" y="175.0" width="0.8" height="0.8" fill="#d01818" opacity="0.58"/>
<rect x="369.5" y="178.3" width="0.8" height="0.8" fill="#d01818" opacity="0.70"/>
<rect x="363.9" y="168.9" width="0.8" height="0.8" fill="#d01818" opacity="0.82"/>
<rect x="368.6" y="176.8" width="0.8" height="0.8" fill="#d01818" opacity="0.60"/>
<rect x="361.6" y="178.6" width="0.8" height="0.8" fill="#d01818" opacity="0.86"/>
<rect x="363.3" y="174.9" width="0.8" height="0.8" fill="#d01818" opacity="0.64"/>
<rect x="363.6" y="174.7" width="0.8" height="0.8" fill="#d01818" opacity="0.44"/>
<rect x="365.3" y="172.9" width="0.8" height="0.8" fill="#d01818" opacity="0.52"/>
<rect x="361.9" y="181.9" width="0.8" height="0.8" fill="#d01818" opacity="0.51"/>
<rect x="361.7" y="171.5" width="0.8" height="0.8" fill="#d01818" opacity="0.54"/>
<rect x="365.6" y="172.1" width="0.8" height="0.8" fill="#d01818" opacity="0.36"/>
<rect x="363.1" y="163.2" width="0.8" height="0.8" fill="#d01818" opacity="0.45"/>
<rect x="357.0" y="173.9" width="0.8" height="0.8" fill="#d01818" opacity="0.41"/>
<rect x="364.8" y="165.2" width="0.8" height="0.8" fill="#d01818" opacity="0.62"/>
<rect x="364.9" y="165.8" width="0.8" height="0.8" fill="#d01818" opacity="0.63"/>
<rect x="360.6" y="181.9" width="0.8" height="0.8" fill="#d01818" opacity="0.74"/>
<rect x="361.6" y="166.5" width="0.8" height="0.8" fill="#d01818" opacity="0.54"/>
<rect x="364.9" y="172.7" width="0.8" height="0.8" fill="#d01818" opacity="0.39"/>
<rect x="363.4" y="166.5" width="0.8" height="0.8" fill="#d01818" opacity="0.44"/>
<ellipse cx="363.50" cy="168.70" rx="3.50" ry="1.30" fill="#c81010" opacity="0.7" transform="rotate(0 363.50 168.70)" filter="url(#b1)"/>
<ellipse cx="380.50" cy="170.50" rx="8.50" ry="6.50" fill="#c81414" opacity="0.75" transform="rotate(-25 380.50 170.50)" filter="url(#b2)"/>
<rect x="392.4" y="177.3" width="0.8" height="0.8" fill="#d01818" opacity="0.83"/>
<rect x="378.3" y="167.3" width="0.8" height="0.8" fill="#d01818" opacity="0.48"/>
<rect x="379.0" y="177.8" width="0.8" height="0.8" fill="#d01818" opacity="0.44"/>
<rect x="375.9" y="173.0" width="0.8" height="0.8" fill="#d01818" opacity="0.88"/>
<rect x="389.5" y="170.2" width="0.8" height="0.8" fill="#d01818" opacity="0.48"/>
<rect x="386.8" y="170.4" width="0.8" height="0.8" fill="#d01818" opacity="0.55"/>
<rect x="387.7" y="171.5" width="0.8" height="0.8" fill="#d01818" opacity="0.61"/>
<rect x="376.4" y="171.4" width="0.8" height="0.8" fill="#d01818" opacity="0.63"/>
<rect x="386.4" y="171.6" width="0.8" height="0.8" fill="#d01818" opacity="0.40"/>
<rect x="379.4" y="172.5" width="0.8" height="0.8" fill="#d01818" opacity="0.36"/>
<rect x="379.3" y="175.6" width="0.8" height="0.8" fill="#d01818" opacity="0.67"/>
<rect x="369.7" y="169.7" width="0.8" height="0.8" fill="#d01818" opacity="0.71"/>
<rect x="376.3" y="174.9" width="0.8" height="0.8" fill="#d01818" opacity="0.89"/>
<rect x="387.5" y="179.2" width="0.8" height="0.8" fill="#d01818" opacity="0.70"/>
<rect x="393.6" y="174.6" width="0.8" height="0.8" fill="#d01818" opacity="0.84"/>
<rect x="373.2" y="164.6" width="0.8" height="0.8" fill="#d01818" opacity="0.80"/>
<rect x="386.4" y="177.1" width="0.8" height="0.8" fill="#d01818" opacity="0.63"/>
<rect x="387.3" y="162.3" width="0.8" height="0.8" fill="#d01818" opacity="0.80"/>
<rect x="368.5" y="165.2" width="0.8" height="0.8" fill="#d01818" opacity="0.73"/>
<rect x="379.3" y="167.5" width="0.8" height="0.8" fill="#d01818" opacity="0.37"/>
<rect x="385.4" y="175.7" width="0.8" height="0.8" fill="#d01818" opacity="0.41"/>
<rect x="385.5" y="165.0" width="0.8" height="0.8" fill="#d01818" opacity="0.70"/>
<rect x="373.7" y="165.1" width="0.8" height="0.8" fill="#d01818" opacity="0.62"/>
<rect x="393.3" y="171.7" width="0.8" height="0.8" fill="#d01818" opacity="0.76"/>
<rect x="372.5" y="171.4" width="0.8" height="0.8" fill="#d01818" opacity="0.71"/>
<rect x="391.3" y="175.4" width="0.8" height="0.8" fill="#d01818" opacity="0.49"/>
<rect x="385.8" y="173.6" width="0.8" height="0.8" fill="#d01818" opacity="0.75"/>
<rect x="384.1" y="180.9" width="0.8" height="0.8" fill="#d01818" opacity="0.89"/>
<rect x="374.3" y="171.7" width="0.8" height="0.8" fill="#d01818" opacity="0.61"/>
<rect x="376.3" y="162.2" width="0.8" height="0.8" fill="#d01818" opacity="0.69"/>
<rect x="379.3" y="169.6" width="0.8" height="0.8" fill="#d01818" opacity="0.43"/>
<rect x="380.7" y="181.3" width="0.8" height="0.8" fill="#d01818" opacity="0.52"/>
<rect x="380.0" y="171.1" width="0.8" height="0.8" fill="#d01818" opacity="0.38"/>
<rect x="379.8" y="180.3" width="0.8" height="0.8" fill="#d01818" opacity="0.73"/>
<rect x="378.4" y="167.1" width="0.8" height="0.8" fill="#d01818" opacity="0.63"/>
<rect x="373.5" y="173.0" width="0.8" height="0.8" fill="#d01818" opacity="0.42"/>
<rect x="384.6" y="169.0" width="0.8" height="0.8" fill="#d01818" opacity="0.89"/>
<rect x="382.2" y="171.1" width="0.8" height="0.8" fill="#d01818" opacity="0.60"/>
<rect x="375.8" y="173.0" width="0.8" height="0.8" fill="#d01818" opacity="0.47"/>
<rect x="385.5" y="170.1" width="0.8" height="0.8" fill="#d01818" opacity="0.67"/>
<rect x="386.3" y="177.1" width="0.8" height="0.8" fill="#d01818" opacity="0.87"/>
<rect x="389.6" y="179.6" width="0.8" height="0.8" fill="#d01818" opacity="0.63"/>
<rect x="389.1" y="165.5" width="0.8" height="0.8" fill="#d01818" opacity="0.48"/>
<rect x="387.4" y="167.4" width="0.8" height="0.8" fill="#d01818" opacity="0.36"/>
<rect x="389.0" y="171.7" width="0.8" height="0.8" fill="#d01818" opacity="0.60"/>
<rect x="379.8" y="174.6" width="0.8" height="0.8" fill="#d01818" opacity="0.54"/>
<rect x="375.7" y="181.9" width="0.8" height="0.8" fill="#d01818" opacity="0.35"/>
<rect x="381.1" y="160.2" width="0.8" height="0.8" fill="#d01818" opacity="0.42"/>
<rect x="390.7" y="167.3" width="0.8" height="0.8" fill="#d01818" opacity="0.85"/>
<rect x="379.4" y="177.1" width="0.8" height="0.8" fill="#d01818" opacity="0.57"/>
<rect x="390.2" y="171.4" width="0.8" height="0.8" fill="#d01818" opacity="0.55"/>
<rect x="376.0" y="173.6" width="0.8" height="0.8" fill="#d01818" opacity="0.38"/>
<rect x="391.5" y="178.2" width="0.8" height="0.8" fill="#d01818" opacity="0.51"/>
<rect x="385.8" y="169.7" width="0.8" height="0.8" fill="#d01818" opacity="0.50"/>
<rect x="376.5" y="171.2" width="0.8" height="0.8" fill="#d01818" opacity="0.56"/>
<rect x="384.7" y="163.7" width="0.8" height="0.8" fill="#d01818" opacity="0.85"/>
<rect x="389.1" y="168.8" width="0.8" height="0.8" fill="#d01818" opacity="0.75"/>
<rect x="391.6" y="174.4" width="0.8" height="0.8" fill="#d01818" opacity="0.60"/>
<rect x="381.2" y="163.0" width="0.8" height="0.8" fill="#d01818" opacity="0.51"/>
<rect x="386.4" y="176.3" width="0.8" height="0.8" fill="#d01818" opacity="0.54"/>
<rect x="377.7" y="180.8" width="0.8" height="0.8" fill="#d01818" opacity="0.89"/>
<rect x="380.4" y="180.2" width="0.8" height="0.8" fill="#d01818" opacity="0.52"/>
<rect x="374.6" y="169.4" width="0.8" height="0.8" fill="#d01818" opacity="0.44"/>
<rect x="383.5" y="174.9" width="0.8" height="0.8" fill="#d01818" opacity="0.85"/>
<rect x="376.2" y="171.6" width="0.8" height="0.8" fill="#d01818" opacity="0.85"/>
<rect x="388.5" y="171.4" width="0.8" height="0.8" fill="#d01818" opacity="0.43"/>
<rect x="382.1" y="173.9" width="0.8" height="0.8" fill="#d01818" opacity="0.54"/>
<rect x="385.3" y="173.9" width="0.8" height="0.8" fill="#d01818" opacity="0.49"/>
<rect x="381.0" y="165.4" width="0.8" height="0.8" fill="#d01818" opacity="0.58"/>
<rect x="374.4" y="170.6" width="0.8" height="0.8" fill="#d01818" opacity="0.54"/>
<rect x="386.1" y="173.3" width="0.8" height="0.8" fill="#d01818" opacity="0.88"/>
<rect x="386.7" y="176.5" width="0.8" height="0.8" fill="#d01818" opacity="0.70"/>
<rect x="384.1" y="168.4" width="0.8" height="0.8" fill="#d01818" opacity="0.50"/>
<rect x="381.1" y="177.5" width="0.8" height="0.8" fill="#d01818" opacity="0.60"/>
<rect x="393.8" y="168.2" width="0.8" height="0.8" fill="#d01818" opacity="0.83"/>
<rect x="382.7" y="171.7" width="0.8" height="0.8" fill="#d01818" opacity="0.74"/>
<rect x="387.2" y="167.4" width="0.8" height="0.8" fill="#d01818" opacity="0.67"/>
<rect x="387.9" y="171.5" width="0.8" height="0.8" fill="#d01818" opacity="0.86"/>
<rect x="387.2" y="161.1" width="0.8" height="0.8" fill="#d01818" opacity="0.88"/>
<rect x="381.0" y="174.4" width="0.8" height="0.8" fill="#d01818" opacity="0.43"/>
<rect x="370.7" y="170.2" width="0.8" height="0.8" fill="#d01818" opacity="0.87"/>
<rect x="379.2" y="163.1" width="0.8" height="0.8" fill="#d01818" opacity="0.77"/>
<rect x="372.6" y="173.5" width="0.8" height="0.8" fill="#d01818" opacity="0.37"/>
<rect x="382.0" y="167.3" width="0.8" height="0.8" fill="#d01818" opacity="0.86"/>
<rect x="377.4" y="167.5" width="0.8" height="0.8" fill="#d01818" opacity="0.42"/>
<rect x="380.9" y="179.9" width="0.8" height="0.8" fill="#d01818" opacity="0.73"/>
<rect x="383.0" y="173.0" width="0.8" height="0.8" fill="#d01818" opacity="0.64"/>
<rect x="375.1" y="168.6" width="0.8" height="0.8" fill="#d01818" opacity="0.47"/>
<rect x="380.2" y="171.0" width="0.8" height="0.8" fill="#d01818" opacity="0.52"/>
<rect x="372.2" y="161.8" width="0.8" height="0.8" fill="#d01818" opacity="0.61"/>
<rect x="381.5" y="176.0" width="0.8" height="0.8" fill="#d01818" opacity="0.88"/>
<rect x="379.3" y="166.6" width="0.8" height="0.8" fill="#d01818" opacity="0.36"/>
<rect x="370.7" y="171.6" width="0.8" height="0.8" fill="#d01818" opacity="0.58"/>
<rect x="380.5" y="180.3" width="0.8" height="0.8" fill="#d01818" opacity="0.86"/>
<rect x="381.3" y="173.0" width="0.8" height="0.8" fill="#d01818" opacity="0.54"/>
<rect x="371.9" y="175.8" width="0.8" height="0.8" fill="#d01818" opacity="0.46"/>
<rect x="384.3" y="162.2" width="0.8" height="0.8" fill="#d01818" opacity="0.63"/>
<rect x="376.2" y="181.7" width="0.8" height="0.8" fill="#d01818" opacity="0.48"/>
<rect x="383.1" y="181.4" width="0.8" height="0.8" fill="#d01818" opacity="0.51"/>
<rect x="388.7" y="169.4" width="0.8" height="0.8" fill="#d01818" opacity="0.45"/>
<rect x="382.2" y="177.6" width="0.8" height="0.8" fill="#d01818" opacity="0.72"/>
<rect x="384.7" y="170.4" width="0.8" height="0.8" fill="#d01818" opacity="0.57"/>
<ellipse cx="375.00" cy="178.80" rx="6.20" ry="3.80" fill="#c80a0a" opacity="0.95" transform="rotate(-20 375.00 178.80)" filter="url(#b1)"/>
<ellipse cx="377.50" cy="176.00" rx="5.00" ry="3.00" fill="#d01010" opacity="0.8" transform="rotate(-35 377.50 176.00)" filter="url(#b1)"/>
<ellipse cx="363.80" cy="189.50" rx="4.80" ry="6.00" fill="#c80606" opacity="0.95" transform="rotate(0 363.80 189.50)" filter="url(#b1)"/>
<ellipse cx="363.20" cy="188.50" rx="3.20" ry="4.00" fill="#e01010" opacity="1" transform="rotate(0 363.20 188.50)" filter="url(#b1)"/>
</g>
<line x1="358.30" y1="182.40" x2="394.20" y2="182.40" stroke="#8a8a8a" stroke-width="0.6"/>
<rect x="368.40" y="159.20" width="25.80" height="36.30" fill="none" stroke="#111" stroke-width="1.2"/>
<text x="382.00" y="192.82" font-size="6.2" font-weight="bold" text-anchor="middle" fill="#222" stroke="#222" stroke-width="0.25">42%</text>
<rect x="398.30" y="120.50" width="36.70" height="36.70" fill="#fff" stroke="#9a9a9a" stroke-width="0.6"/>
<clipPath id="c398120"><rect x="398.3" y="120.5" width="36.69999999999999" height="36.69999999999999"/></clipPath>
<g clip-path="url(#c398120)">
<rect x="405.2" y="141.7" width="0.8" height="0.8" fill="#d01818" opacity="0.38"/>
<rect x="398.7" y="153.1" width="0.8" height="0.8" fill="#d01818" opacity="0.84"/>
<rect x="407.3" y="135.0" width="0.8" height="0.8" fill="#d01818" opacity="0.45"/>
<rect x="409.7" y="132.1" width="0.8" height="0.8" fill="#d01818" opacity="0.37"/>
<rect x="402.8" y="130.1" width="0.8" height="0.8" fill="#d01818" opacity="0.56"/>
<rect x="403.5" y="144.6" width="0.8" height="0.8" fill="#d01818" opacity="0.35"/>
<rect x="403.9" y="148.7" width="0.8" height="0.8" fill="#d01818" opacity="0.88"/>
<rect x="405.4" y="148.6" width="0.8" height="0.8" fill="#d01818" opacity="0.80"/>
<rect x="406.1" y="128.8" width="0.8" height="0.8" fill="#d01818" opacity="0.38"/>
<rect x="401.2" y="140.7" width="0.8" height="0.8" fill="#d01818" opacity="0.86"/>
<rect x="405.6" y="148.5" width="0.8" height="0.8" fill="#d01818" opacity="0.84"/>
<rect x="408.0" y="141.1" width="0.8" height="0.8" fill="#d01818" opacity="0.80"/>
<rect x="404.6" y="136.0" width="0.8" height="0.8" fill="#d01818" opacity="0.37"/>
<rect x="411.6" y="148.2" width="0.8" height="0.8" fill="#d01818" opacity="0.49"/>
<rect x="403.0" y="146.2" width="0.8" height="0.8" fill="#d01818" opacity="0.88"/>
<rect x="402.5" y="133.4" width="0.8" height="0.8" fill="#d01818" opacity="0.74"/>
<rect x="403.4" y="146.8" width="0.8" height="0.8" fill="#d01818" opacity="0.35"/>
<rect x="399.0" y="120.0" width="0.8" height="0.8" fill="#d01818" opacity="0.36"/>
<ellipse cx="420.00" cy="130.00" rx="8.50" ry="4.00" fill="#d01c1c" opacity="0.62" transform="rotate(-15 420.00 130.00)" filter="url(#b2)"/>
<rect x="422.8" y="136.6" width="0.8" height="0.8" fill="#d01818" opacity="0.88"/>
<rect x="428.5" y="129.6" width="0.8" height="0.8" fill="#d01818" opacity="0.49"/>
<rect x="414.7" y="133.5" width="0.8" height="0.8" fill="#d01818" opacity="0.86"/>
<rect x="427.1" y="139.2" width="0.8" height="0.8" fill="#d01818" opacity="0.76"/>
<rect x="427.2" y="123.3" width="0.8" height="0.8" fill="#d01818" opacity="0.68"/>
<rect x="419.2" y="134.9" width="0.8" height="0.8" fill="#d01818" opacity="0.55"/>
<rect x="422.6" y="129.0" width="0.8" height="0.8" fill="#d01818" opacity="0.46"/>
<rect x="422.1" y="127.2" width="0.8" height="0.8" fill="#d01818" opacity="0.39"/>
<rect x="430.5" y="132.3" width="0.8" height="0.8" fill="#d01818" opacity="0.53"/>
<rect x="427.4" y="130.7" width="0.8" height="0.8" fill="#d01818" opacity="0.40"/>
<rect x="428.6" y="134.3" width="0.8" height="0.8" fill="#d01818" opacity="0.74"/>
<rect x="417.3" y="132.2" width="0.8" height="0.8" fill="#d01818" opacity="0.58"/>
<rect x="414.5" y="125.9" width="0.8" height="0.8" fill="#d01818" opacity="0.76"/>
<rect x="427.8" y="124.9" width="0.8" height="0.8" fill="#d01818" opacity="0.42"/>
<rect x="425.1" y="127.5" width="0.8" height="0.8" fill="#d01818" opacity="0.66"/>
<rect x="414.1" y="136.9" width="0.8" height="0.8" fill="#d01818" opacity="0.46"/>
<rect x="422.1" y="134.8" width="0.8" height="0.8" fill="#d01818" opacity="0.43"/>
<rect x="428.7" y="126.6" width="0.8" height="0.8" fill="#d01818" opacity="0.53"/>
<rect x="417.0" y="130.8" width="0.8" height="0.8" fill="#d01818" opacity="0.79"/>
<rect x="428.2" y="134.4" width="0.8" height="0.8" fill="#d01818" opacity="0.80"/>
<rect x="430.2" y="121.7" width="0.8" height="0.8" fill="#d01818" opacity="0.37"/>
<rect x="421.1" y="133.4" width="0.8" height="0.8" fill="#d01818" opacity="0.45"/>
<rect x="431.0" y="129.9" width="0.8" height="0.8" fill="#d01818" opacity="0.86"/>
<rect x="412.4" y="138.2" width="0.8" height="0.8" fill="#d01818" opacity="0.60"/>
<rect x="421.3" y="139.7" width="0.8" height="0.8" fill="#d01818" opacity="0.87"/>
<rect x="429.3" y="135.2" width="0.8" height="0.8" fill="#d01818" opacity="0.69"/>
<rect x="423.3" y="135.7" width="0.8" height="0.8" fill="#d01818" opacity="0.43"/>
<rect x="423.5" y="134.7" width="0.8" height="0.8" fill="#d01818" opacity="0.68"/>
<rect x="419.3" y="128.3" width="0.8" height="0.8" fill="#d01818" opacity="0.36"/>
<rect x="417.2" y="137.7" width="0.8" height="0.8" fill="#d01818" opacity="0.45"/>
<rect x="420.2" y="134.1" width="0.8" height="0.8" fill="#d01818" opacity="0.79"/>
<rect x="419.6" y="130.5" width="0.8" height="0.8" fill="#d01818" opacity="0.41"/>
<rect x="415.1" y="134.9" width="0.8" height="0.8" fill="#d01818" opacity="0.70"/>
<rect x="425.5" y="132.6" width="0.8" height="0.8" fill="#d01818" opacity="0.73"/>
<rect x="417.3" y="133.2" width="0.8" height="0.8" fill="#d01818" opacity="0.52"/>
<rect x="427.7" y="129.7" width="0.8" height="0.8" fill="#d01818" opacity="0.66"/>
<rect x="417.5" y="135.1" width="0.8" height="0.8" fill="#d01818" opacity="0.83"/>
<rect x="428.5" y="130.9" width="0.8" height="0.8" fill="#d01818" opacity="0.46"/>
<rect x="421.4" y="127.7" width="0.8" height="0.8" fill="#d01818" opacity="0.35"/>
<rect x="427.9" y="128.0" width="0.8" height="0.8" fill="#d01818" opacity="0.80"/>
<rect x="410.2" y="136.8" width="0.8" height="0.8" fill="#d01818" opacity="0.60"/>
<rect x="422.6" y="131.7" width="0.8" height="0.8" fill="#d01818" opacity="0.65"/>
<rect x="412.4" y="122.5" width="0.8" height="0.8" fill="#d01818" opacity="0.40"/>
<rect x="417.2" y="127.7" width="0.8" height="0.8" fill="#d01818" opacity="0.63"/>
<rect x="425.4" y="134.2" width="0.8" height="0.8" fill="#d01818" opacity="0.64"/>
<rect x="424.9" y="129.9" width="0.8" height="0.8" fill="#d01818" opacity="0.62"/>
<rect x="423.2" y="133.5" width="0.8" height="0.8" fill="#d01818" opacity="0.87"/>
<rect x="429.8" y="130.1" width="0.8" height="0.8" fill="#d01818" opacity="0.38"/>
<rect x="428.1" y="128.8" width="0.8" height="0.8" fill="#d01818" opacity="0.85"/>
<rect x="412.7" y="124.6" width="0.8" height="0.8" fill="#d01818" opacity="0.44"/>
<rect x="423.1" y="127.5" width="0.8" height="0.8" fill="#d01818" opacity="0.57"/>
<rect x="429.4" y="123.3" width="0.8" height="0.8" fill="#d01818" opacity="0.45"/>
<rect x="423.4" y="136.0" width="0.8" height="0.8" fill="#d01818" opacity="0.63"/>
<rect x="419.4" y="132.7" width="0.8" height="0.8" fill="#d01818" opacity="0.49"/>
<rect x="430.5" y="132.6" width="0.8" height="0.8" fill="#d01818" opacity="0.77"/>
<rect x="434.7" y="133.3" width="0.8" height="0.8" fill="#d01818" opacity="0.41"/>
<rect x="415.0" y="127.3" width="0.8" height="0.8" fill="#d01818" opacity="0.69"/>
<rect x="419.5" y="135.9" width="0.8" height="0.8" fill="#d01818" opacity="0.67"/>
<rect x="413.0" y="134.3" width="0.8" height="0.8" fill="#d01818" opacity="0.60"/>
<rect x="420.6" y="131.4" width="0.8" height="0.8" fill="#d01818" opacity="0.69"/>
<rect x="417.0" y="131.2" width="0.8" height="0.8" fill="#d01818" opacity="0.77"/>
<rect x="423.4" y="125.6" width="0.8" height="0.8" fill="#d01818" opacity="0.45"/>
<rect x="418.8" y="131.4" width="0.8" height="0.8" fill="#d01818" opacity="0.42"/>
<rect x="419.3" y="131.9" width="0.8" height="0.8" fill="#d01818" opacity="0.59"/>
<rect x="420.0" y="130.9" width="0.8" height="0.8" fill="#d01818" opacity="0.70"/>
<rect x="431.7" y="135.0" width="0.8" height="0.8" fill="#d01818" opacity="0.78"/>
<rect x="419.7" y="130.9" width="0.8" height="0.8" fill="#d01818" opacity="0.63"/>
<rect x="409.9" y="139.5" width="0.8" height="0.8" fill="#d01818" opacity="0.42"/>
<rect x="420.6" y="121.9" width="0.8" height="0.8" fill="#d01818" opacity="0.46"/>
<rect x="429.9" y="130.3" width="0.8" height="0.8" fill="#d01818" opacity="0.88"/>
<rect x="425.6" y="129.5" width="0.8" height="0.8" fill="#d01818" opacity="0.78"/>
<rect x="424.3" y="130.2" width="0.8" height="0.8" fill="#d01818" opacity="0.54"/>
<rect x="422.2" y="128.1" width="0.8" height="0.8" fill="#d01818" opacity="0.84"/>
<rect x="420.0" y="140.1" width="0.8" height="0.8" fill="#d01818" opacity="0.43"/>
<ellipse cx="419.00" cy="135.50" rx="7.00" ry="3.00" fill="#d41818" opacity="0.7" transform="rotate(-20 419.00 135.50)" filter="url(#b1)"/>
<ellipse cx="416.00" cy="139.20" rx="7.00" ry="3.60" fill="#d41010" opacity="0.95" transform="rotate(-12 416.00 139.20)" filter="url(#b2)"/>
<ellipse cx="416.00" cy="139.20" rx="5.04" ry="2.59" fill="#ff4a10" opacity="0.95" transform="rotate(-12 416.00 139.20)" filter="url(#b1)"/>
<ellipse cx="416.00" cy="139.20" rx="3.36" ry="1.73" fill="#ffd21e" opacity="1" transform="rotate(-12 416.00 139.20)" filter="url(#b1)"/>
<ellipse cx="416.00" cy="139.20" rx="1.40" ry="0.72" fill="#58b030" opacity="1" transform="rotate(-12 416.00 139.20)" filter="url(#b0)"/>
<ellipse cx="406.50" cy="144.30" rx="4.40" ry="4.20" fill="#d41010" opacity="0.95" transform="rotate(-25 406.50 144.30)" filter="url(#b2)"/>
<ellipse cx="406.50" cy="144.30" rx="3.17" ry="3.02" fill="#ff4a10" opacity="0.95" transform="rotate(-25 406.50 144.30)" filter="url(#b1)"/>
<ellipse cx="406.50" cy="144.30" rx="2.11" ry="2.02" fill="#ffd21e" opacity="1" transform="rotate(-25 406.50 144.30)" filter="url(#b1)"/>
<ellipse cx="405.00" cy="150.00" rx="2.50" ry="3.00" fill="#d41818" opacity="0.5" transform="rotate(0 405.00 150.00)" filter="url(#b1)"/>
</g>
<line x1="398.30" y1="140.40" x2="435.00" y2="140.40" stroke="#8a8a8a" stroke-width="0.6"/>
<rect x="410.30" y="120.50" width="24.70" height="36.70" fill="none" stroke="#111" stroke-width="1.2"/>
<text x="423.40" y="154.42" font-size="6.2" font-weight="bold" text-anchor="middle" fill="#222" stroke="#222" stroke-width="0.25">65%</text>
<rect x="398.80" y="159.20" width="35.80" height="36.30" fill="#fff" stroke="#9a9a9a" stroke-width="0.6"/>
<clipPath id="c398159"><rect x="398.8" y="159.2" width="35.80000000000001" height="36.30000000000001"/></clipPath>
<g clip-path="url(#c398159)">
<rect x="397.2" y="177.7" width="0.8" height="0.8" fill="#d01818" opacity="0.46"/>
<rect x="403.2" y="190.6" width="0.8" height="0.8" fill="#d01818" opacity="0.53"/>
<rect x="405.2" y="179.5" width="0.8" height="0.8" fill="#d01818" opacity="0.44"/>
<rect x="407.4" y="171.8" width="0.8" height="0.8" fill="#d01818" opacity="0.84"/>
<rect x="405.9" y="194.3" width="0.8" height="0.8" fill="#d01818" opacity="0.41"/>
<rect x="399.6" y="175.1" width="0.8" height="0.8" fill="#d01818" opacity="0.55"/>
<rect x="406.0" y="168.3" width="0.8" height="0.8" fill="#d01818" opacity="0.67"/>
<rect x="404.5" y="174.6" width="0.8" height="0.8" fill="#d01818" opacity="0.90"/>
<rect x="401.6" y="170.3" width="0.8" height="0.8" fill="#d01818" opacity="0.79"/>
<rect x="401.1" y="173.3" width="0.8" height="0.8" fill="#d01818" opacity="0.77"/>
<rect x="401.9" y="180.4" width="0.8" height="0.8" fill="#d01818" opacity="0.76"/>
<rect x="408.5" y="183.9" width="0.8" height="0.8" fill="#d01818" opacity="0.49"/>
<rect x="399.9" y="169.9" width="0.8" height="0.8" fill="#d01818" opacity="0.52"/>
<rect x="404.2" y="178.0" width="0.8" height="0.8" fill="#d01818" opacity="0.43"/>
<rect x="401.3" y="170.5" width="0.8" height="0.8" fill="#d01818" opacity="0.63"/>
<rect x="404.7" y="174.5" width="0.8" height="0.8" fill="#d01818" opacity="0.47"/>
<rect x="403.2" y="176.1" width="0.8" height="0.8" fill="#d01818" opacity="0.35"/>
<rect x="402.7" y="182.0" width="0.8" height="0.8" fill="#d01818" opacity="0.55"/>
<rect x="404.1" y="191.9" width="0.8" height="0.8" fill="#d01818" opacity="0.67"/>
<rect x="404.6" y="192.2" width="0.8" height="0.8" fill="#d01818" opacity="0.61"/>
<rect x="407.9" y="196.7" width="0.8" height="0.8" fill="#d01818" opacity="0.48"/>
<rect x="404.2" y="181.8" width="0.8" height="0.8" fill="#d01818" opacity="0.70"/>
<rect x="406.9" y="164.6" width="0.8" height="0.8" fill="#d01818" opacity="0.57"/>
<rect x="403.5" y="179.6" width="0.8" height="0.8" fill="#d01818" opacity="0.70"/>
<rect x="401.1" y="174.2" width="0.8" height="0.8" fill="#d01818" opacity="0.71"/>
<rect x="397.3" y="186.7" width="0.8" height="0.8" fill="#d01818" opacity="0.75"/>
<rect x="406.8" y="181.6" width="0.8" height="0.8" fill="#d01818" opacity="0.57"/>
<ellipse cx="422.00" cy="167.00" rx="9.50" ry="5.50" fill="#c81414" opacity="0.7" transform="rotate(-15 422.00 167.00)" filter="url(#b2)"/>
<rect x="421.2" y="172.6" width="0.8" height="0.8" fill="#d01818" opacity="0.78"/>
<rect x="430.5" y="171.1" width="0.8" height="0.8" fill="#d01818" opacity="0.87"/>
<rect x="424.1" y="173.6" width="0.8" height="0.8" fill="#d01818" opacity="0.68"/>
<rect x="410.3" y="170.1" width="0.8" height="0.8" fill="#d01818" opacity="0.80"/>
<rect x="423.9" y="175.0" width="0.8" height="0.8" fill="#d01818" opacity="0.52"/>
<rect x="423.4" y="161.3" width="0.8" height="0.8" fill="#d01818" opacity="0.35"/>
<rect x="427.9" y="162.4" width="0.8" height="0.8" fill="#d01818" opacity="0.61"/>
<rect x="420.6" y="164.0" width="0.8" height="0.8" fill="#d01818" opacity="0.47"/>
<rect x="425.3" y="173.2" width="0.8" height="0.8" fill="#d01818" opacity="0.37"/>
<rect x="414.6" y="179.0" width="0.8" height="0.8" fill="#d01818" opacity="0.73"/>
<rect x="427.7" y="162.8" width="0.8" height="0.8" fill="#d01818" opacity="0.50"/>
<rect x="413.4" y="168.4" width="0.8" height="0.8" fill="#d01818" opacity="0.78"/>
<rect x="415.2" y="169.8" width="0.8" height="0.8" fill="#d01818" opacity="0.70"/>
<rect x="426.1" y="169.6" width="0.8" height="0.8" fill="#d01818" opacity="0.83"/>
<rect x="426.8" y="170.9" width="0.8" height="0.8" fill="#d01818" opacity="0.48"/>
<rect x="420.8" y="165.2" width="0.8" height="0.8" fill="#d01818" opacity="0.83"/>
<rect x="418.4" y="174.4" width="0.8" height="0.8" fill="#d01818" opacity="0.85"/>
<rect x="413.1" y="163.8" width="0.8" height="0.8" fill="#d01818" opacity="0.72"/>
<rect x="429.4" y="169.6" width="0.8" height="0.8" fill="#d01818" opacity="0.81"/>
<rect x="416.2" y="159.4" width="0.8" height="0.8" fill="#d01818" opacity="0.59"/>
<rect x="419.5" y="162.9" width="0.8" height="0.8" fill="#d01818" opacity="0.52"/>
<rect x="423.5" y="178.6" width="0.8" height="0.8" fill="#d01818" opacity="0.39"/>
<rect x="424.6" y="168.7" width="0.8" height="0.8" fill="#d01818" opacity="0.36"/>
<rect x="434.5" y="179.0" width="0.8" height="0.8" fill="#d01818" opacity="0.54"/>
<rect x="422.1" y="171.6" width="0.8" height="0.8" fill="#d01818" opacity="0.37"/>
<rect x="417.2" y="162.6" width="0.8" height="0.8" fill="#d01818" opacity="0.73"/>
<rect x="420.8" y="168.3" width="0.8" height="0.8" fill="#d01818" opacity="0.67"/>
<rect x="412.0" y="178.8" width="0.8" height="0.8" fill="#d01818" opacity="0.80"/>
<rect x="423.1" y="169.1" width="0.8" height="0.8" fill="#d01818" opacity="0.83"/>
<rect x="425.0" y="173.0" width="0.8" height="0.8" fill="#d01818" opacity="0.41"/>
<rect x="425.0" y="162.7" width="0.8" height="0.8" fill="#d01818" opacity="0.80"/>
<rect x="416.8" y="166.9" width="0.8" height="0.8" fill="#d01818" opacity="0.40"/>
<rect x="431.3" y="176.3" width="0.8" height="0.8" fill="#d01818" opacity="0.46"/>
<rect x="417.7" y="176.2" width="0.8" height="0.8" fill="#d01818" opacity="0.36"/>
<rect x="420.7" y="175.3" width="0.8" height="0.8" fill="#d01818" opacity="0.74"/>
<rect x="416.5" y="174.4" width="0.8" height="0.8" fill="#d01818" opacity="0.88"/>
<rect x="419.6" y="169.5" width="0.8" height="0.8" fill="#d01818" opacity="0.58"/>
<rect x="409.1" y="174.5" width="0.8" height="0.8" fill="#d01818" opacity="0.54"/>
<rect x="418.4" y="163.4" width="0.8" height="0.8" fill="#d01818" opacity="0.47"/>
<rect x="423.1" y="168.5" width="0.8" height="0.8" fill="#d01818" opacity="0.80"/>
<rect x="421.2" y="170.8" width="0.8" height="0.8" fill="#d01818" opacity="0.46"/>
<rect x="429.7" y="170.7" width="0.8" height="0.8" fill="#d01818" opacity="0.62"/>
<rect x="422.4" y="166.9" width="0.8" height="0.8" fill="#d01818" opacity="0.62"/>
<rect x="412.9" y="179.7" width="0.8" height="0.8" fill="#d01818" opacity="0.49"/>
<rect x="426.7" y="168.8" width="0.8" height="0.8" fill="#d01818" opacity="0.47"/>
<rect x="418.3" y="163.9" width="0.8" height="0.8" fill="#d01818" opacity="0.41"/>
<rect x="419.0" y="168.7" width="0.8" height="0.8" fill="#d01818" opacity="0.78"/>
<rect x="416.7" y="160.6" width="0.8" height="0.8" fill="#d01818" opacity="0.70"/>
<rect x="416.3" y="175.2" width="0.8" height="0.8" fill="#d01818" opacity="0.57"/>
<rect x="423.5" y="168.9" width="0.8" height="0.8" fill="#d01818" opacity="0.84"/>
<rect x="426.0" y="171.1" width="0.8" height="0.8" fill="#d01818" opacity="0.49"/>
<rect x="428.2" y="166.4" width="0.8" height="0.8" fill="#d01818" opacity="0.56"/>
<rect x="425.1" y="167.6" width="0.8" height="0.8" fill="#d01818" opacity="0.60"/>
<rect x="408.7" y="168.5" width="0.8" height="0.8" fill="#d01818" opacity="0.76"/>
<rect x="416.8" y="166.1" width="0.8" height="0.8" fill="#d01818" opacity="0.53"/>
<rect x="429.1" y="180.0" width="0.8" height="0.8" fill="#d01818" opacity="0.71"/>
<rect x="420.8" y="166.9" width="0.8" height="0.8" fill="#d01818" opacity="0.59"/>
<rect x="422.4" y="162.8" width="0.8" height="0.8" fill="#d01818" opacity="0.42"/>
<rect x="421.4" y="174.4" width="0.8" height="0.8" fill="#d01818" opacity="0.52"/>
<rect x="416.8" y="159.6" width="0.8" height="0.8" fill="#d01818" opacity="0.44"/>
<rect x="424.2" y="174.2" width="0.8" height="0.8" fill="#d01818" opacity="0.53"/>
<rect x="416.6" y="170.0" width="0.8" height="0.8" fill="#d01818" opacity="0.53"/>
<rect x="420.5" y="167.8" width="0.8" height="0.8" fill="#d01818" opacity="0.88"/>
<rect x="426.9" y="174.0" width="0.8" height="0.8" fill="#d01818" opacity="0.89"/>
<rect x="424.4" y="161.2" width="0.8" height="0.8" fill="#d01818" opacity="0.59"/>
<rect x="424.5" y="178.5" width="0.8" height="0.8" fill="#d01818" opacity="0.41"/>
<rect x="423.0" y="176.2" width="0.8" height="0.8" fill="#d01818" opacity="0.37"/>
<rect x="410.3" y="176.7" width="0.8" height="0.8" fill="#d01818" opacity="0.73"/>
<rect x="410.4" y="170.5" width="0.8" height="0.8" fill="#d01818" opacity="0.60"/>
<rect x="427.4" y="176.8" width="0.8" height="0.8" fill="#d01818" opacity="0.57"/>
<rect x="412.1" y="173.8" width="0.8" height="0.8" fill="#d01818" opacity="0.76"/>
<rect x="416.2" y="172.5" width="0.8" height="0.8" fill="#d01818" opacity="0.75"/>
<rect x="430.4" y="163.5" width="0.8" height="0.8" fill="#d01818" opacity="0.74"/>
<rect x="427.8" y="163.3" width="0.8" height="0.8" fill="#d01818" opacity="0.70"/>
<rect x="414.8" y="172.0" width="0.8" height="0.8" fill="#d01818" opacity="0.70"/>
<rect x="427.4" y="174.1" width="0.8" height="0.8" fill="#d01818" opacity="0.78"/>
<rect x="418.6" y="162.4" width="0.8" height="0.8" fill="#d01818" opacity="0.49"/>
<rect x="413.7" y="173.5" width="0.8" height="0.8" fill="#d01818" opacity="0.69"/>
<rect x="411.5" y="175.3" width="0.8" height="0.8" fill="#d01818" opacity="0.86"/>
<rect x="425.5" y="178.4" width="0.8" height="0.8" fill="#d01818" opacity="0.78"/>
<rect x="414.3" y="174.9" width="0.8" height="0.8" fill="#d01818" opacity="0.89"/>
<rect x="430.1" y="172.3" width="0.8" height="0.8" fill="#d01818" opacity="0.44"/>
<rect x="417.6" y="170.2" width="0.8" height="0.8" fill="#d01818" opacity="0.67"/>
<rect x="409.5" y="168.1" width="0.8" height="0.8" fill="#d01818" opacity="0.63"/>
<rect x="412.0" y="161.9" width="0.8" height="0.8" fill="#d01818" opacity="0.64"/>
<rect x="423.8" y="179.2" width="0.8" height="0.8" fill="#d01818" opacity="0.57"/>
<rect x="421.3" y="167.5" width="0.8" height="0.8" fill="#d01818" opacity="0.89"/>
<rect x="419.4" y="172.1" width="0.8" height="0.8" fill="#d01818" opacity="0.50"/>
<rect x="420.0" y="171.1" width="0.8" height="0.8" fill="#d01818" opacity="0.58"/>
<rect x="410.8" y="174.9" width="0.8" height="0.8" fill="#d01818" opacity="0.54"/>
<rect x="420.5" y="174.7" width="0.8" height="0.8" fill="#d01818" opacity="0.76"/>
<rect x="429.5" y="167.8" width="0.8" height="0.8" fill="#d01818" opacity="0.47"/>
<rect x="423.4" y="164.9" width="0.8" height="0.8" fill="#d01818" opacity="0.47"/>
<rect x="429.9" y="178.0" width="0.8" height="0.8" fill="#d01818" opacity="0.80"/>
<rect x="415.4" y="165.5" width="0.8" height="0.8" fill="#d01818" opacity="0.66"/>
<rect x="414.5" y="177.3" width="0.8" height="0.8" fill="#d01818" opacity="0.80"/>
<rect x="424.4" y="164.4" width="0.8" height="0.8" fill="#d01818" opacity="0.51"/>
<rect x="417.3" y="169.6" width="0.8" height="0.8" fill="#d01818" opacity="0.81"/>
<ellipse cx="420.00" cy="174.00" rx="10.00" ry="5.00" fill="#cc1010" opacity="0.8" transform="rotate(-18 420.00 174.00)" filter="url(#b1)"/>
<ellipse cx="417.50" cy="178.20" rx="10.00" ry="4.40" fill="#d41010" opacity="0.95" transform="rotate(-18 417.50 178.20)" filter="url(#b2)"/>
<ellipse cx="417.50" cy="178.20" rx="7.20" ry="3.17" fill="#ff4a10" opacity="0.95" transform="rotate(-18 417.50 178.20)" filter="url(#b1)"/>
<ellipse cx="417.50" cy="178.20" rx="4.80" ry="2.11" fill="#ffd21e" opacity="1" transform="rotate(-18 417.50 178.20)" filter="url(#b1)"/>
<ellipse cx="403.50" cy="187.00" rx="4.80" ry="6.00" fill="#d01010" opacity="0.95" transform="rotate(-10 403.50 187.00)" filter="url(#b1)"/>
<ellipse cx="403.80" cy="186.00" rx="3.30" ry="3.80" fill="#ff6010" opacity="0.95" transform="rotate(-10 403.80 186.00)" filter="url(#b1)"/>
<ellipse cx="404.00" cy="185.50" rx="1.80" ry="2.20" fill="#ffb020" opacity="1" transform="rotate(-10 404.00 185.50)" filter="url(#b1)"/>
</g>
<line x1="398.80" y1="182.40" x2="434.60" y2="182.40" stroke="#8a8a8a" stroke-width="0.6"/>
<rect x="408.10" y="159.20" width="26.50" height="36.30" fill="none" stroke="#111" stroke-width="1.2"/>
<text x="423.00" y="192.82" font-size="6.2" font-weight="bold" text-anchor="middle" fill="#222" stroke="#222" stroke-width="0.25">62%</text>
<rect x="440.80" y="120.50" width="35.80" height="36.70" fill="#fff" stroke="#9a9a9a" stroke-width="0.6"/>
<clipPath id="c440120"><rect x="440.8" y="120.5" width="35.80000000000001" height="36.69999999999999"/></clipPath>
<g clip-path="url(#c440120)">
<rect x="442.4" y="155.4" width="0.8" height="0.8" fill="#d01818" opacity="0.50"/>
<rect x="444.6" y="144.7" width="0.8" height="0.8" fill="#d01818" opacity="0.58"/>
<rect x="446.6" y="139.7" width="0.8" height="0.8" fill="#d01818" opacity="0.75"/>
<rect x="446.0" y="146.8" width="0.8" height="0.8" fill="#d01818" opacity="0.52"/>
<rect x="442.9" y="140.4" width="0.8" height="0.8" fill="#d01818" opacity="0.70"/>
<rect x="444.7" y="130.5" width="0.8" height="0.8" fill="#d01818" opacity="0.86"/>
<rect x="447.2" y="136.1" width="0.8" height="0.8" fill="#d01818" opacity="0.81"/>
<rect x="451.5" y="128.6" width="0.8" height="0.8" fill="#d01818" opacity="0.43"/>
<rect x="448.9" y="125.9" width="0.8" height="0.8" fill="#d01818" opacity="0.36"/>
<rect x="445.0" y="132.3" width="0.8" height="0.8" fill="#d01818" opacity="0.41"/>
<rect x="448.1" y="145.1" width="0.8" height="0.8" fill="#d01818" opacity="0.78"/>
<rect x="445.4" y="144.0" width="0.8" height="0.8" fill="#d01818" opacity="0.85"/>
<rect x="447.0" y="132.8" width="0.8" height="0.8" fill="#d01818" opacity="0.84"/>
<rect x="454.6" y="125.7" width="0.8" height="0.8" fill="#d01818" opacity="0.72"/>
<rect x="472.6" y="125.7" width="0.8" height="0.8" fill="#d01818" opacity="0.81"/>
<rect x="466.8" y="139.2" width="0.8" height="0.8" fill="#d01818" opacity="0.64"/>
<rect x="463.1" y="125.8" width="0.8" height="0.8" fill="#d01818" opacity="0.84"/>
<rect x="458.7" y="130.1" width="0.8" height="0.8" fill="#d01818" opacity="0.48"/>
<rect x="468.4" y="136.3" width="0.8" height="0.8" fill="#d01818" opacity="0.38"/>
<rect x="459.9" y="132.1" width="0.8" height="0.8" fill="#d01818" opacity="0.62"/>
<rect x="455.3" y="131.6" width="0.8" height="0.8" fill="#d01818" opacity="0.82"/>
<rect x="455.2" y="132.9" width="0.8" height="0.8" fill="#d01818" opacity="0.72"/>
<rect x="466.9" y="127.2" width="0.8" height="0.8" fill="#d01818" opacity="0.58"/>
<rect x="466.0" y="131.0" width="0.8" height="0.8" fill="#d01818" opacity="0.70"/>
<rect x="462.5" y="130.5" width="0.8" height="0.8" fill="#d01818" opacity="0.69"/>
<rect x="456.0" y="131.1" width="0.8" height="0.8" fill="#d01818" opacity="0.84"/>
<rect x="473.7" y="133.3" width="0.8" height="0.8" fill="#d01818" opacity="0.69"/>
<rect x="456.6" y="140.5" width="0.8" height="0.8" fill="#d01818" opacity="0.55"/>
<rect x="455.6" y="132.5" width="0.8" height="0.8" fill="#d01818" opacity="0.77"/>
<rect x="465.2" y="137.0" width="0.8" height="0.8" fill="#d01818" opacity="0.58"/>
<rect x="451.9" y="128.2" width="0.8" height="0.8" fill="#d01818" opacity="0.51"/>
<rect x="466.6" y="126.7" width="0.8" height="0.8" fill="#d01818" opacity="0.63"/>
<rect x="462.4" y="137.8" width="0.8" height="0.8" fill="#d01818" opacity="0.89"/>
<rect x="456.9" y="123.7" width="0.8" height="0.8" fill="#d01818" opacity="0.53"/>
<rect x="461.2" y="135.6" width="0.8" height="0.8" fill="#d01818" opacity="0.67"/>
<rect x="455.9" y="124.5" width="0.8" height="0.8" fill="#d01818" opacity="0.37"/>
<rect x="461.5" y="131.0" width="0.8" height="0.8" fill="#d01818" opacity="0.52"/>
<rect x="467.8" y="131.6" width="0.8" height="0.8" fill="#d01818" opacity="0.86"/>
<rect x="456.0" y="126.6" width="0.8" height="0.8" fill="#d01818" opacity="0.78"/>
<rect x="471.1" y="127.6" width="0.8" height="0.8" fill="#d01818" opacity="0.69"/>
<rect x="456.4" y="125.6" width="0.8" height="0.8" fill="#d01818" opacity="0.68"/>
<rect x="461.6" y="128.2" width="0.8" height="0.8" fill="#d01818" opacity="0.72"/>
<rect x="452.8" y="133.9" width="0.8" height="0.8" fill="#d01818" opacity="0.41"/>
<rect x="464.3" y="132.8" width="0.8" height="0.8" fill="#d01818" opacity="0.78"/>
<rect x="471.7" y="127.5" width="0.8" height="0.8" fill="#d01818" opacity="0.55"/>
<rect x="468.6" y="123.1" width="0.8" height="0.8" fill="#d01818" opacity="0.66"/>
<rect x="463.2" y="136.0" width="0.8" height="0.8" fill="#d01818" opacity="0.58"/>
<rect x="460.6" y="136.6" width="0.8" height="0.8" fill="#d01818" opacity="0.70"/>
<rect x="465.5" y="130.8" width="0.8" height="0.8" fill="#d01818" opacity="0.66"/>
<rect x="466.7" y="132.2" width="0.8" height="0.8" fill="#d01818" opacity="0.80"/>
<rect x="462.5" y="131.8" width="0.8" height="0.8" fill="#d01818" opacity="0.56"/>
<rect x="470.9" y="130.8" width="0.8" height="0.8" fill="#d01818" opacity="0.58"/>
<rect x="471.1" y="136.1" width="0.8" height="0.8" fill="#d01818" opacity="0.47"/>
<rect x="464.2" y="132.3" width="0.8" height="0.8" fill="#d01818" opacity="0.35"/>
<rect x="462.1" y="129.0" width="0.8" height="0.8" fill="#d01818" opacity="0.88"/>
<rect x="474.8" y="137.1" width="0.8" height="0.8" fill="#d01818" opacity="0.42"/>
<rect x="473.9" y="132.4" width="0.8" height="0.8" fill="#d01818" opacity="0.48"/>
<ellipse cx="462.00" cy="130.00" rx="8.00" ry="7.00" fill="#d41818" opacity="0.6" transform="rotate(-35 462.00 130.00)" filter="url(#b2)"/>
<ellipse cx="460.00" cy="131.50" rx="7.50" ry="6.80" fill="#d41010" opacity="0.95" transform="rotate(-35 460.00 131.50)" filter="url(#b2)"/>
<ellipse cx="460.00" cy="131.50" rx="5.40" ry="4.90" fill="#ff4a10" opacity="0.95" transform="rotate(-35 460.00 131.50)" filter="url(#b1)"/>
<ellipse cx="460.00" cy="131.50" rx="3.60" ry="3.26" fill="#ffd21e" opacity="1" transform="rotate(-35 460.00 131.50)" filter="url(#b1)"/>
<ellipse cx="460.00" cy="131.50" rx="1.50" ry="1.36" fill="#58b030" opacity="1" transform="rotate(-35 460.00 131.50)" filter="url(#b0)"/>
<ellipse cx="448.30" cy="145.20" rx="4.30" ry="5.20" fill="#d41010" opacity="0.95" transform="rotate(-15 448.30 145.20)" filter="url(#b2)"/>
<ellipse cx="448.30" cy="145.20" rx="3.10" ry="3.74" fill="#ff4a10" opacity="0.95" transform="rotate(-15 448.30 145.20)" filter="url(#b1)"/>
<ellipse cx="448.30" cy="145.20" rx="2.06" ry="2.50" fill="#ffd21e" opacity="1" transform="rotate(-15 448.30 145.20)" filter="url(#b1)"/>
</g>
<line x1="440.80" y1="140.40" x2="476.60" y2="140.40" stroke="#8a8a8a" stroke-width="0.6"/>
<rect x="452.30" y="120.50" width="24.30" height="36.70" fill="none" stroke="#111" stroke-width="1.2"/>
<text x="465.80" y="155.02" font-size="6.2" font-weight="bold" text-anchor="middle" fill="#222" stroke="#222" stroke-width="0.25">75%</text>
<rect x="440.30" y="159.20" width="36.10" height="36.30" fill="#fff" stroke="#9a9a9a" stroke-width="0.6"/>
<clipPath id="c440159"><rect x="440.3" y="159.2" width="36.099999999999966" height="36.30000000000001"/></clipPath>
<g clip-path="url(#c440159)">
<rect x="445.3" y="171.9" width="0.8" height="0.8" fill="#d01818" opacity="0.38"/>
<rect x="446.2" y="162.4" width="0.8" height="0.8" fill="#d01818" opacity="0.82"/>
<rect x="445.4" y="174.2" width="0.8" height="0.8" fill="#d01818" opacity="0.70"/>
<rect x="444.7" y="167.4" width="0.8" height="0.8" fill="#d01818" opacity="0.86"/>
<rect x="445.4" y="177.0" width="0.8" height="0.8" fill="#d01818" opacity="0.36"/>
<rect x="442.5" y="163.1" width="0.8" height="0.8" fill="#d01818" opacity="0.39"/>
<rect x="443.8" y="194.0" width="0.8" height="0.8" fill="#d01818" opacity="0.44"/>
<rect x="447.6" y="169.4" width="0.8" height="0.8" fill="#d01818" opacity="0.38"/>
<rect x="443.0" y="188.5" width="0.8" height="0.8" fill="#d01818" opacity="0.59"/>
<rect x="444.8" y="173.3" width="0.8" height="0.8" fill="#d01818" opacity="0.79"/>
<rect x="442.9" y="189.7" width="0.8" height="0.8" fill="#d01818" opacity="0.70"/>
<rect x="443.1" y="183.5" width="0.8" height="0.8" fill="#d01818" opacity="0.78"/>
<rect x="450.1" y="172.4" width="0.8" height="0.8" fill="#d01818" opacity="0.66"/>
<rect x="445.2" y="182.0" width="0.8" height="0.8" fill="#d01818" opacity="0.89"/>
<rect x="443.6" y="190.7" width="0.8" height="0.8" fill="#d01818" opacity="0.89"/>
<rect x="447.4" y="166.3" width="0.8" height="0.8" fill="#d01818" opacity="0.52"/>
<rect x="440.2" y="187.9" width="0.8" height="0.8" fill="#d01818" opacity="0.56"/>
<rect x="444.0" y="165.7" width="0.8" height="0.8" fill="#d01818" opacity="0.84"/>
<rect x="446.3" y="170.6" width="0.8" height="0.8" fill="#d01818" opacity="0.35"/>
<rect x="445.3" y="189.3" width="0.8" height="0.8" fill="#d01818" opacity="0.67"/>
<rect x="450.6" y="183.6" width="0.8" height="0.8" fill="#d01818" opacity="0.80"/>
<rect x="448.0" y="168.5" width="0.8" height="0.8" fill="#d01818" opacity="0.50"/>
<rect x="448.5" y="163.4" width="0.8" height="0.8" fill="#d01818" opacity="0.73"/>
<rect x="447.7" y="173.6" width="0.8" height="0.8" fill="#d01818" opacity="0.40"/>
<rect x="440.8" y="172.4" width="0.8" height="0.8" fill="#d01818" opacity="0.46"/>
<rect x="445.9" y="192.5" width="0.8" height="0.8" fill="#d01818" opacity="0.72"/>
<ellipse cx="445.50" cy="172.00" rx="3.50" ry="8.00" fill="#c81010" opacity="0.6" transform="rotate(0 445.50 172.00)" filter="url(#b2)"/>
<rect x="457.7" y="172.4" width="0.8" height="0.8" fill="#d01818" opacity="0.49"/>
<rect x="462.6" y="161.0" width="0.8" height="0.8" fill="#d01818" opacity="0.60"/>
<rect x="473.6" y="177.1" width="0.8" height="0.8" fill="#d01818" opacity="0.77"/>
<rect x="463.5" y="179.3" width="0.8" height="0.8" fill="#d01818" opacity="0.84"/>
<rect x="469.1" y="166.7" width="0.8" height="0.8" fill="#d01818" opacity="0.61"/>
<rect x="458.6" y="169.5" width="0.8" height="0.8" fill="#d01818" opacity="0.46"/>
<rect x="467.2" y="179.9" width="0.8" height="0.8" fill="#d01818" opacity="0.55"/>
<rect x="455.8" y="169.1" width="0.8" height="0.8" fill="#d01818" opacity="0.63"/>
<rect x="463.8" y="172.9" width="0.8" height="0.8" fill="#d01818" opacity="0.90"/>
<rect x="460.1" y="173.5" width="0.8" height="0.8" fill="#d01818" opacity="0.70"/>
<rect x="463.5" y="168.1" width="0.8" height="0.8" fill="#d01818" opacity="0.68"/>
<rect x="457.6" y="177.4" width="0.8" height="0.8" fill="#d01818" opacity="0.36"/>
<rect x="468.0" y="166.4" width="0.8" height="0.8" fill="#d01818" opacity="0.66"/>
<rect x="461.6" y="181.8" width="0.8" height="0.8" fill="#d01818" opacity="0.58"/>
<rect x="474.1" y="168.2" width="0.8" height="0.8" fill="#d01818" opacity="0.80"/>
<rect x="467.9" y="170.5" width="0.8" height="0.8" fill="#d01818" opacity="0.37"/>
<rect x="463.9" y="175.1" width="0.8" height="0.8" fill="#d01818" opacity="0.40"/>
<rect x="471.2" y="173.9" width="0.8" height="0.8" fill="#d01818" opacity="0.83"/>
<rect x="464.7" y="170.3" width="0.8" height="0.8" fill="#d01818" opacity="0.68"/>
<rect x="459.6" y="173.3" width="0.8" height="0.8" fill="#d01818" opacity="0.88"/>
<rect x="462.1" y="179.1" width="0.8" height="0.8" fill="#d01818" opacity="0.70"/>
<rect x="472.8" y="169.1" width="0.8" height="0.8" fill="#d01818" opacity="0.57"/>
<rect x="458.5" y="172.6" width="0.8" height="0.8" fill="#d01818" opacity="0.88"/>
<rect x="467.6" y="171.3" width="0.8" height="0.8" fill="#d01818" opacity="0.37"/>
<rect x="462.3" y="177.0" width="0.8" height="0.8" fill="#d01818" opacity="0.85"/>
<rect x="473.8" y="165.1" width="0.8" height="0.8" fill="#d01818" opacity="0.38"/>
<rect x="465.1" y="162.4" width="0.8" height="0.8" fill="#d01818" opacity="0.71"/>
<rect x="464.9" y="171.3" width="0.8" height="0.8" fill="#d01818" opacity="0.43"/>
<rect x="459.8" y="167.0" width="0.8" height="0.8" fill="#d01818" opacity="0.68"/>
<rect x="462.7" y="168.7" width="0.8" height="0.8" fill="#d01818" opacity="0.53"/>
<rect x="462.3" y="174.6" width="0.8" height="0.8" fill="#d01818" opacity="0.61"/>
<rect x="465.1" y="175.3" width="0.8" height="0.8" fill="#d01818" opacity="0.43"/>
<rect x="462.0" y="170.7" width="0.8" height="0.8" fill="#d01818" opacity="0.74"/>
<rect x="463.2" y="173.0" width="0.8" height="0.8" fill="#d01818" opacity="0.86"/>
<rect x="472.6" y="162.3" width="0.8" height="0.8" fill="#d01818" opacity="0.43"/>
<rect x="459.4" y="172.4" width="0.8" height="0.8" fill="#d01818" opacity="0.86"/>
<rect x="468.0" y="164.5" width="0.8" height="0.8" fill="#d01818" opacity="0.60"/>
<rect x="455.3" y="180.8" width="0.8" height="0.8" fill="#d01818" opacity="0.61"/>
<rect x="459.7" y="169.1" width="0.8" height="0.8" fill="#d01818" opacity="0.47"/>
<rect x="473.2" y="174.8" width="0.8" height="0.8" fill="#d01818" opacity="0.65"/>
<rect x="471.4" y="181.0" width="0.8" height="0.8" fill="#d01818" opacity="0.50"/>
<rect x="458.9" y="173.3" width="0.8" height="0.8" fill="#d01818" opacity="0.50"/>
<rect x="466.0" y="167.0" width="0.8" height="0.8" fill="#d01818" opacity="0.44"/>
<rect x="456.2" y="171.8" width="0.8" height="0.8" fill="#d01818" opacity="0.85"/>
<rect x="460.1" y="167.9" width="0.8" height="0.8" fill="#d01818" opacity="0.61"/>
<rect x="461.2" y="176.0" width="0.8" height="0.8" fill="#d01818" opacity="0.46"/>
<rect x="467.4" y="174.3" width="0.8" height="0.8" fill="#d01818" opacity="0.84"/>
<rect x="473.3" y="174.9" width="0.8" height="0.8" fill="#d01818" opacity="0.51"/>
<rect x="463.8" y="171.4" width="0.8" height="0.8" fill="#d01818" opacity="0.79"/>
<rect x="460.4" y="174.2" width="0.8" height="0.8" fill="#d01818" opacity="0.35"/>
<rect x="466.8" y="165.2" width="0.8" height="0.8" fill="#d01818" opacity="0.45"/>
<ellipse cx="461.00" cy="173.00" rx="10.00" ry="6.80" fill="#c80808" opacity="0.9" transform="rotate(-22 461.00 173.00)" filter="url(#b2)"/>
<ellipse cx="459.50" cy="174.50" rx="8.00" ry="5.00" fill="#d80c0c" opacity="1" transform="rotate(-22 459.50 174.50)" filter="url(#b1)"/>
<ellipse cx="446.20" cy="188.50" rx="4.80" ry="7.00" fill="#c80808" opacity="0.95" transform="rotate(0 446.20 188.50)" filter="url(#b1)"/>
<ellipse cx="446.40" cy="188.50" rx="3.00" ry="4.50" fill="#e01010" opacity="1" transform="rotate(0 446.40 188.50)" filter="url(#b1)"/>
</g>
<line x1="440.30" y1="182.40" x2="476.40" y2="182.40" stroke="#8a8a8a" stroke-width="0.6"/>
<rect x="450.10" y="159.20" width="26.30" height="36.30" fill="none" stroke="#111" stroke-width="1.2"/>
<text x="465.20" y="192.82" font-size="6.2" font-weight="bold" text-anchor="middle" fill="#222" stroke="#222" stroke-width="0.25">47%</text>
<rect x="481.60" y="120.50" width="36.30" height="36.70" fill="#fff" stroke="#9a9a9a" stroke-width="0.6"/>
<clipPath id="c481120"><rect x="481.6" y="120.5" width="36.299999999999955" height="36.69999999999999"/></clipPath>
<g clip-path="url(#c481120)">
<rect x="488.4" y="152.6" width="0.8" height="0.8" fill="#d01818" opacity="0.43"/>
<rect x="490.0" y="155.5" width="0.8" height="0.8" fill="#d01818" opacity="0.74"/>
<rect x="488.0" y="143.1" width="0.8" height="0.8" fill="#d01818" opacity="0.40"/>
<rect x="484.4" y="131.2" width="0.8" height="0.8" fill="#d01818" opacity="0.50"/>
<rect x="488.8" y="153.1" width="0.8" height="0.8" fill="#d01818" opacity="0.74"/>
<rect x="489.2" y="126.0" width="0.8" height="0.8" fill="#d01818" opacity="0.46"/>
<rect x="492.6" y="145.9" width="0.8" height="0.8" fill="#d01818" opacity="0.57"/>
<rect x="487.3" y="135.5" width="0.8" height="0.8" fill="#d01818" opacity="0.80"/>
<rect x="484.1" y="156.6" width="0.8" height="0.8" fill="#d01818" opacity="0.83"/>
<rect x="486.9" y="139.1" width="0.8" height="0.8" fill="#d01818" opacity="0.85"/>
<rect x="480.6" y="142.2" width="0.8" height="0.8" fill="#d01818" opacity="0.50"/>
<rect x="490.0" y="157.5" width="0.8" height="0.8" fill="#d01818" opacity="0.55"/>
<rect x="489.2" y="147.8" width="0.8" height="0.8" fill="#d01818" opacity="0.68"/>
<rect x="491.7" y="139.4" width="0.8" height="0.8" fill="#d01818" opacity="0.60"/>
<rect x="501.5" y="131.2" width="0.8" height="0.8" fill="#d01818" opacity="0.74"/>
<rect x="510.6" y="121.8" width="0.8" height="0.8" fill="#d01818" opacity="0.53"/>
<rect x="503.4" y="126.4" width="0.8" height="0.8" fill="#d01818" opacity="0.76"/>
<rect x="517.9" y="135.5" width="0.8" height="0.8" fill="#d01818" opacity="0.87"/>
<rect x="496.8" y="131.7" width="0.8" height="0.8" fill="#d01818" opacity="0.64"/>
<rect x="503.6" y="131.2" width="0.8" height="0.8" fill="#d01818" opacity="0.88"/>
<rect x="505.7" y="134.8" width="0.8" height="0.8" fill="#d01818" opacity="0.41"/>
<rect x="505.0" y="141.3" width="0.8" height="0.8" fill="#d01818" opacity="0.37"/>
<rect x="513.8" y="136.2" width="0.8" height="0.8" fill="#d01818" opacity="0.46"/>
<rect x="514.2" y="132.3" width="0.8" height="0.8" fill="#d01818" opacity="0.67"/>
<rect x="494.4" y="130.3" width="0.8" height="0.8" fill="#d01818" opacity="0.41"/>
<rect x="512.5" y="125.3" width="0.8" height="0.8" fill="#d01818" opacity="0.37"/>
<rect x="510.7" y="135.8" width="0.8" height="0.8" fill="#d01818" opacity="0.63"/>
<rect x="504.4" y="134.2" width="0.8" height="0.8" fill="#d01818" opacity="0.57"/>
<rect x="511.0" y="136.9" width="0.8" height="0.8" fill="#d01818" opacity="0.82"/>
<rect x="510.4" y="137.0" width="0.8" height="0.8" fill="#d01818" opacity="0.76"/>
<rect x="511.6" y="140.0" width="0.8" height="0.8" fill="#d01818" opacity="0.87"/>
<rect x="499.5" y="135.1" width="0.8" height="0.8" fill="#d01818" opacity="0.81"/>
<rect x="498.2" y="130.6" width="0.8" height="0.8" fill="#d01818" opacity="0.87"/>
<rect x="506.1" y="126.7" width="0.8" height="0.8" fill="#d01818" opacity="0.48"/>
<rect x="501.3" y="136.4" width="0.8" height="0.8" fill="#d01818" opacity="0.89"/>
<rect x="510.3" y="122.0" width="0.8" height="0.8" fill="#d01818" opacity="0.38"/>
<rect x="509.8" y="129.9" width="0.8" height="0.8" fill="#d01818" opacity="0.58"/>
<rect x="500.6" y="127.8" width="0.8" height="0.8" fill="#d01818" opacity="0.64"/>
<rect x="511.6" y="133.9" width="0.8" height="0.8" fill="#d01818" opacity="0.63"/>
<rect x="508.7" y="131.9" width="0.8" height="0.8" fill="#d01818" opacity="0.88"/>
<rect x="496.6" y="124.3" width="0.8" height="0.8" fill="#d01818" opacity="0.84"/>
<rect x="506.4" y="130.6" width="0.8" height="0.8" fill="#d01818" opacity="0.70"/>
<rect x="504.0" y="139.5" width="0.8" height="0.8" fill="#d01818" opacity="0.50"/>
<rect x="501.2" y="128.7" width="0.8" height="0.8" fill="#d01818" opacity="0.64"/>
<rect x="503.6" y="135.9" width="0.8" height="0.8" fill="#d01818" opacity="0.71"/>
<rect x="511.7" y="136.4" width="0.8" height="0.8" fill="#d01818" opacity="0.88"/>
<rect x="499.6" y="131.1" width="0.8" height="0.8" fill="#d01818" opacity="0.61"/>
<rect x="501.2" y="130.9" width="0.8" height="0.8" fill="#d01818" opacity="0.42"/>
<rect x="508.9" y="134.8" width="0.8" height="0.8" fill="#d01818" opacity="0.57"/>
<rect x="503.8" y="135.4" width="0.8" height="0.8" fill="#d01818" opacity="0.40"/>
<rect x="492.4" y="128.6" width="0.8" height="0.8" fill="#d01818" opacity="0.69"/>
<rect x="496.0" y="128.2" width="0.8" height="0.8" fill="#d01818" opacity="0.46"/>
<rect x="503.1" y="125.8" width="0.8" height="0.8" fill="#d01818" opacity="0.65"/>
<rect x="499.1" y="127.6" width="0.8" height="0.8" fill="#d01818" opacity="0.52"/>
<rect x="505.2" y="135.3" width="0.8" height="0.8" fill="#d01818" opacity="0.63"/>
<rect x="498.2" y="136.2" width="0.8" height="0.8" fill="#d01818" opacity="0.36"/>
<rect x="496.8" y="139.9" width="0.8" height="0.8" fill="#d01818" opacity="0.48"/>
<rect x="497.5" y="129.3" width="0.8" height="0.8" fill="#d01818" opacity="0.51"/>
<rect x="510.7" y="131.2" width="0.8" height="0.8" fill="#d01818" opacity="0.77"/>
<rect x="506.4" y="133.2" width="0.8" height="0.8" fill="#d01818" opacity="0.83"/>
<rect x="502.7" y="132.2" width="0.8" height="0.8" fill="#d01818" opacity="0.56"/>
<rect x="494.6" y="134.7" width="0.8" height="0.8" fill="#d01818" opacity="0.41"/>
<rect x="504.7" y="128.4" width="0.8" height="0.8" fill="#d01818" opacity="0.54"/>
<rect x="498.8" y="137.9" width="0.8" height="0.8" fill="#d01818" opacity="0.69"/>
<rect x="512.5" y="123.5" width="0.8" height="0.8" fill="#d01818" opacity="0.63"/>
<rect x="504.2" y="122.8" width="0.8" height="0.8" fill="#d01818" opacity="0.77"/>
<rect x="493.1" y="132.9" width="0.8" height="0.8" fill="#d01818" opacity="0.74"/>
<rect x="508.1" y="130.1" width="0.8" height="0.8" fill="#d01818" opacity="0.83"/>
<ellipse cx="504.00" cy="131.50" rx="10.00" ry="7.40" fill="#d41818" opacity="0.7" transform="rotate(-15 504.00 131.50)" filter="url(#b2)"/>
<ellipse cx="501.50" cy="132.50" rx="8.80" ry="6.60" fill="#d41010" opacity="0.95" transform="rotate(-18 501.50 132.50)" filter="url(#b2)"/>
<ellipse cx="501.50" cy="132.50" rx="6.34" ry="4.75" fill="#ff4a10" opacity="0.95" transform="rotate(-18 501.50 132.50)" filter="url(#b1)"/>
<ellipse cx="501.50" cy="132.50" rx="4.22" ry="3.17" fill="#ffd21e" opacity="1" transform="rotate(-18 501.50 132.50)" filter="url(#b1)"/>
<ellipse cx="501.50" cy="132.50" rx="1.76" ry="1.32" fill="#58b030" opacity="1" transform="rotate(-18 501.50 132.50)" filter="url(#b0)"/>
<ellipse cx="489.80" cy="144.60" rx="4.80" ry="4.80" fill="#d41010" opacity="0.95" transform="rotate(-30 489.80 144.60)" filter="url(#b2)"/>
<ellipse cx="489.80" cy="144.60" rx="3.46" ry="3.46" fill="#ff4a10" opacity="0.95" transform="rotate(-30 489.80 144.60)" filter="url(#b1)"/>
<ellipse cx="489.80" cy="144.60" rx="2.30" ry="2.30" fill="#ffd21e" opacity="1" transform="rotate(-30 489.80 144.60)" filter="url(#b1)"/>
</g>
<line x1="481.60" y1="140.40" x2="517.90" y2="140.40" stroke="#8a8a8a" stroke-width="0.6"/>
<rect x="493.60" y="120.50" width="24.30" height="36.70" fill="none" stroke="#111" stroke-width="1.2"/>
<text x="507.60" y="153.92" font-size="6.2" font-weight="bold" text-anchor="middle" fill="#222" stroke="#222" stroke-width="0.25">68%</text>
<rect x="481.60" y="159.20" width="36.70" height="36.30" fill="#fff" stroke="#9a9a9a" stroke-width="0.6"/>
<clipPath id="c481159"><rect x="481.6" y="159.2" width="36.69999999999993" height="36.30000000000001"/></clipPath>
<g clip-path="url(#c481159)">
<rect x="492.3" y="178.5" width="0.8" height="0.8" fill="#d01818" opacity="0.67"/>
<rect x="484.1" y="173.2" width="0.8" height="0.8" fill="#d01818" opacity="0.78"/>
<rect x="490.0" y="167.6" width="0.8" height="0.8" fill="#d01818" opacity="0.56"/>
<rect x="483.7" y="181.5" width="0.8" height="0.8" fill="#d01818" opacity="0.75"/>
<rect x="486.2" y="188.2" width="0.8" height="0.8" fill="#d01818" opacity="0.66"/>
<rect x="484.9" y="184.2" width="0.8" height="0.8" fill="#d01818" opacity="0.78"/>
<rect x="489.2" y="167.9" width="0.8" height="0.8" fill="#d01818" opacity="0.59"/>
<rect x="488.1" y="186.3" width="0.8" height="0.8" fill="#d01818" opacity="0.43"/>
<rect x="483.3" y="171.6" width="0.8" height="0.8" fill="#d01818" opacity="0.40"/>
<rect x="489.4" y="173.5" width="0.8" height="0.8" fill="#d01818" opacity="0.81"/>
<rect x="487.9" y="188.7" width="0.8" height="0.8" fill="#d01818" opacity="0.85"/>
<rect x="488.0" y="178.2" width="0.8" height="0.8" fill="#d01818" opacity="0.66"/>
<rect x="487.6" y="164.9" width="0.8" height="0.8" fill="#d01818" opacity="0.90"/>
<rect x="483.3" y="176.6" width="0.8" height="0.8" fill="#d01818" opacity="0.73"/>
<rect x="484.7" y="184.4" width="0.8" height="0.8" fill="#d01818" opacity="0.68"/>
<rect x="485.3" y="166.4" width="0.8" height="0.8" fill="#d01818" opacity="0.40"/>
<rect x="484.8" y="185.6" width="0.8" height="0.8" fill="#d01818" opacity="0.66"/>
<rect x="481.3" y="168.2" width="0.8" height="0.8" fill="#d01818" opacity="0.88"/>
<rect x="483.6" y="179.0" width="0.8" height="0.8" fill="#d01818" opacity="0.69"/>
<rect x="489.9" y="177.8" width="0.8" height="0.8" fill="#d01818" opacity="0.64"/>
<rect x="487.8" y="172.0" width="0.8" height="0.8" fill="#d01818" opacity="0.52"/>
<rect x="492.8" y="175.3" width="0.8" height="0.8" fill="#d01818" opacity="0.63"/>
<rect x="492.1" y="192.4" width="0.8" height="0.8" fill="#d01818" opacity="0.73"/>
<rect x="489.5" y="170.8" width="0.8" height="0.8" fill="#d01818" opacity="0.44"/>
<rect x="486.1" y="190.3" width="0.8" height="0.8" fill="#d01818" opacity="0.63"/>
<rect x="487.8" y="184.2" width="0.8" height="0.8" fill="#d01818" opacity="0.70"/>
<rect x="484.7" y="172.0" width="0.8" height="0.8" fill="#d01818" opacity="0.90"/>
<rect x="486.4" y="175.6" width="0.8" height="0.8" fill="#d01818" opacity="0.58"/>
<rect x="487.6" y="169.2" width="0.8" height="0.8" fill="#d01818" opacity="0.73"/>
<rect x="489.7" y="178.2" width="0.8" height="0.8" fill="#d01818" opacity="0.81"/>
<rect x="483.0" y="169.9" width="0.8" height="0.8" fill="#d01818" opacity="0.46"/>
<rect x="483.0" y="178.2" width="0.8" height="0.8" fill="#d01818" opacity="0.50"/>
<rect x="484.7" y="167.6" width="0.8" height="0.8" fill="#d01818" opacity="0.90"/>
<rect x="484.1" y="173.1" width="0.8" height="0.8" fill="#d01818" opacity="0.42"/>
<rect x="489.9" y="192.9" width="0.8" height="0.8" fill="#d01818" opacity="0.41"/>
<rect x="508.1" y="173.2" width="0.8" height="0.8" fill="#d01818" opacity="0.64"/>
<rect x="508.9" y="163.3" width="0.8" height="0.8" fill="#d01818" opacity="0.79"/>
<rect x="505.6" y="171.4" width="0.8" height="0.8" fill="#d01818" opacity="0.77"/>
<rect x="499.5" y="179.9" width="0.8" height="0.8" fill="#d01818" opacity="0.54"/>
<rect x="507.2" y="175.3" width="0.8" height="0.8" fill="#d01818" opacity="0.40"/>
<rect x="512.3" y="166.3" width="0.8" height="0.8" fill="#d01818" opacity="0.54"/>
<rect x="497.8" y="172.9" width="0.8" height="0.8" fill="#d01818" opacity="0.38"/>
<rect x="511.8" y="165.8" width="0.8" height="0.8" fill="#d01818" opacity="0.88"/>
<rect x="495.2" y="174.2" width="0.8" height="0.8" fill="#d01818" opacity="0.49"/>
<rect x="508.3" y="166.7" width="0.8" height="0.8" fill="#d01818" opacity="0.84"/>
<rect x="507.0" y="166.1" width="0.8" height="0.8" fill="#d01818" opacity="0.68"/>
<rect x="512.6" y="169.2" width="0.8" height="0.8" fill="#d01818" opacity="0.87"/>
<rect x="504.8" y="177.2" width="0.8" height="0.8" fill="#d01818" opacity="0.75"/>
<rect x="505.6" y="176.3" width="0.8" height="0.8" fill="#d01818" opacity="0.83"/>
<rect x="491.8" y="172.1" width="0.8" height="0.8" fill="#d01818" opacity="0.48"/>
<rect x="507.6" y="176.2" width="0.8" height="0.8" fill="#d01818" opacity="0.45"/>
<rect x="510.4" y="170.1" width="0.8" height="0.8" fill="#d01818" opacity="0.66"/>
<rect x="511.2" y="176.1" width="0.8" height="0.8" fill="#d01818" opacity="0.56"/>
<rect x="502.3" y="172.3" width="0.8" height="0.8" fill="#d01818" opacity="0.42"/>
<rect x="507.6" y="165.8" width="0.8" height="0.8" fill="#d01818" opacity="0.48"/>
<rect x="506.6" y="175.8" width="0.8" height="0.8" fill="#d01818" opacity="0.48"/>
<rect x="514.9" y="173.0" width="0.8" height="0.8" fill="#d01818" opacity="0.54"/>
<rect x="510.8" y="179.1" width="0.8" height="0.8" fill="#d01818" opacity="0.40"/>
<rect x="502.8" y="182.8" width="0.8" height="0.8" fill="#d01818" opacity="0.42"/>
<rect x="491.7" y="175.1" width="0.8" height="0.8" fill="#d01818" opacity="0.79"/>
<rect x="508.1" y="175.9" width="0.8" height="0.8" fill="#d01818" opacity="0.75"/>
<rect x="491.5" y="182.0" width="0.8" height="0.8" fill="#d01818" opacity="0.46"/>
<rect x="512.6" y="168.8" width="0.8" height="0.8" fill="#d01818" opacity="0.48"/>
<rect x="500.9" y="172.0" width="0.8" height="0.8" fill="#d01818" opacity="0.74"/>
<rect x="498.6" y="167.9" width="0.8" height="0.8" fill="#d01818" opacity="0.49"/>
<rect x="500.6" y="168.3" width="0.8" height="0.8" fill="#d01818" opacity="0.83"/>
<rect x="510.7" y="176.2" width="0.8" height="0.8" fill="#d01818" opacity="0.65"/>
<rect x="502.9" y="181.7" width="0.8" height="0.8" fill="#d01818" opacity="0.56"/>
<rect x="499.4" y="164.2" width="0.8" height="0.8" fill="#d01818" opacity="0.52"/>
<rect x="502.2" y="172.7" width="0.8" height="0.8" fill="#d01818" opacity="0.45"/>
<rect x="508.2" y="166.6" width="0.8" height="0.8" fill="#d01818" opacity="0.71"/>
<rect x="511.7" y="176.1" width="0.8" height="0.8" fill="#d01818" opacity="0.55"/>
<rect x="498.5" y="171.0" width="0.8" height="0.8" fill="#d01818" opacity="0.39"/>
<ellipse cx="503.00" cy="173.00" rx="10.50" ry="9.00" fill="#d41010" opacity="0.95" transform="rotate(-10 503.00 173.00)" filter="url(#b2)"/>
<ellipse cx="502.00" cy="174.00" rx="8.00" ry="6.50" fill="#ff4010" opacity="0.95" transform="rotate(-10 502.00 174.00)" filter="url(#b1)"/>
<ellipse cx="501.50" cy="175.00" rx="5.50" ry="4.00" fill="#ffb020" opacity="1" transform="rotate(-10 501.50 175.00)" filter="url(#b1)"/>
<ellipse cx="501.00" cy="175.50" rx="4.00" ry="2.60" fill="#ffe040" opacity="1" transform="rotate(-10 501.00 175.50)" filter="url(#b1)"/>
<ellipse cx="500.20" cy="175.80" rx="3.20" ry="1.40" fill="#30a030" opacity="1" transform="rotate(-8 500.20 175.80)" filter="url(#b0)"/>
</g>
<line x1="481.60" y1="181.30" x2="518.30" y2="181.30" stroke="#8a8a8a" stroke-width="0.6"/>
<rect x="492.00" y="159.20" width="26.30" height="36.30" fill="none" stroke="#111" stroke-width="1.2"/>
<text x="505.60" y="192.82" font-size="6.2" font-weight="bold" text-anchor="middle" fill="#222" stroke="#222" stroke-width="0.25">97%</text>
<line x1="318.30" y1="206.60" x2="318.30" y2="289.80" stroke="#666" stroke-width="0.9"/>
<line x1="318.30" y1="289.80" x2="431.00" y2="289.80" stroke="#666" stroke-width="0.9"/>
<line x1="316.80" y1="289.80" x2="318.30" y2="289.80" stroke="#666" stroke-width="0.7"/>
<text x="316.40" y="292.23" font-size="6.8" font-weight="bold" text-anchor="end" fill="#222" stroke="#222" stroke-width="0.25">0.0</text>
<line x1="316.80" y1="276.10" x2="318.30" y2="276.10" stroke="#666" stroke-width="0.7"/>
<text x="316.40" y="278.53" font-size="6.8" font-weight="bold" text-anchor="end" fill="#222" stroke="#222" stroke-width="0.25">0.2</text>
<line x1="316.80" y1="262.40" x2="318.30" y2="262.40" stroke="#666" stroke-width="0.7"/>
<text x="316.40" y="264.83" font-size="6.8" font-weight="bold" text-anchor="end" fill="#222" stroke="#222" stroke-width="0.25">0.4</text>
<line x1="316.80" y1="248.70" x2="318.30" y2="248.70" stroke="#666" stroke-width="0.7"/>
<text x="316.40" y="251.13" font-size="6.8" font-weight="bold" text-anchor="end" fill="#222" stroke="#222" stroke-width="0.25">0.6</text>
<line x1="316.80" y1="235.00" x2="318.30" y2="235.00" stroke="#666" stroke-width="0.7"/>
<text x="316.40" y="237.43" font-size="6.8" font-weight="bold" text-anchor="end" fill="#222" stroke="#222" stroke-width="0.25">0.8</text>
<line x1="316.80" y1="221.30" x2="318.30" y2="221.30" stroke="#666" stroke-width="0.7"/>
<text x="316.40" y="223.73" font-size="6.8" font-weight="bold" text-anchor="end" fill="#222" stroke="#222" stroke-width="0.25">1.0</text>
<line x1="316.80" y1="207.60" x2="318.30" y2="207.60" stroke="#666" stroke-width="0.7"/>
<text x="316.40" y="210.03" font-size="6.8" font-weight="bold" text-anchor="end" fill="#222" stroke="#222" stroke-width="0.25">1.2</text>
<line x1="318.30" y1="223.30" x2="429.30" y2="223.30" stroke="#333" stroke-width="0.6" stroke-dasharray="1,1"/>
<text x="323.70" y="218.36" font-size="6.6" font-weight="normal" text-anchor="start" fill="#333">Antagonism</text>
<text x="323.70" y="232.96" font-size="6.6" font-weight="normal" text-anchor="start" fill="#333">Synergism</text>
<line x1="337.00" y1="285.50" x2="412.00" y2="285.50" stroke="#222" stroke-width="0.8"/>
<circle cx="337.0" cy="285.5" r="0.9" fill="#111"/>
<circle cx="374.4" cy="285.5" r="0.9" fill="#111"/>
<circle cx="412.0" cy="285.5" r="0.9" fill="#111"/>
<text x="337.50" y="297.27" font-size="6.9" font-weight="bold" text-anchor="middle" fill="#222" stroke="#222" stroke-width="0.25">ED50</text>
<text x="375.00" y="297.27" font-size="6.9" font-weight="bold" text-anchor="middle" fill="#222" stroke="#222" stroke-width="0.25">ED75</text>
<text x="412.50" y="297.27" font-size="6.9" font-weight="bold" text-anchor="middle" fill="#222" stroke="#222" stroke-width="0.25">ED90</text>
<text x="374.40" y="306.52" font-size="7.6" font-weight="bold" text-anchor="middle" fill="#111" stroke="#111" stroke-width="0.25">Median Effect Levels</text>
<text x="298.90" y="248.07" font-size="6.9" font-weight="bold" text-anchor="middle" fill="#111" stroke="#111" stroke-width="0.25" transform="rotate(-90 298.90 245.60)">Combination Index (C.I.)</text>
</svg>
</body></html>
